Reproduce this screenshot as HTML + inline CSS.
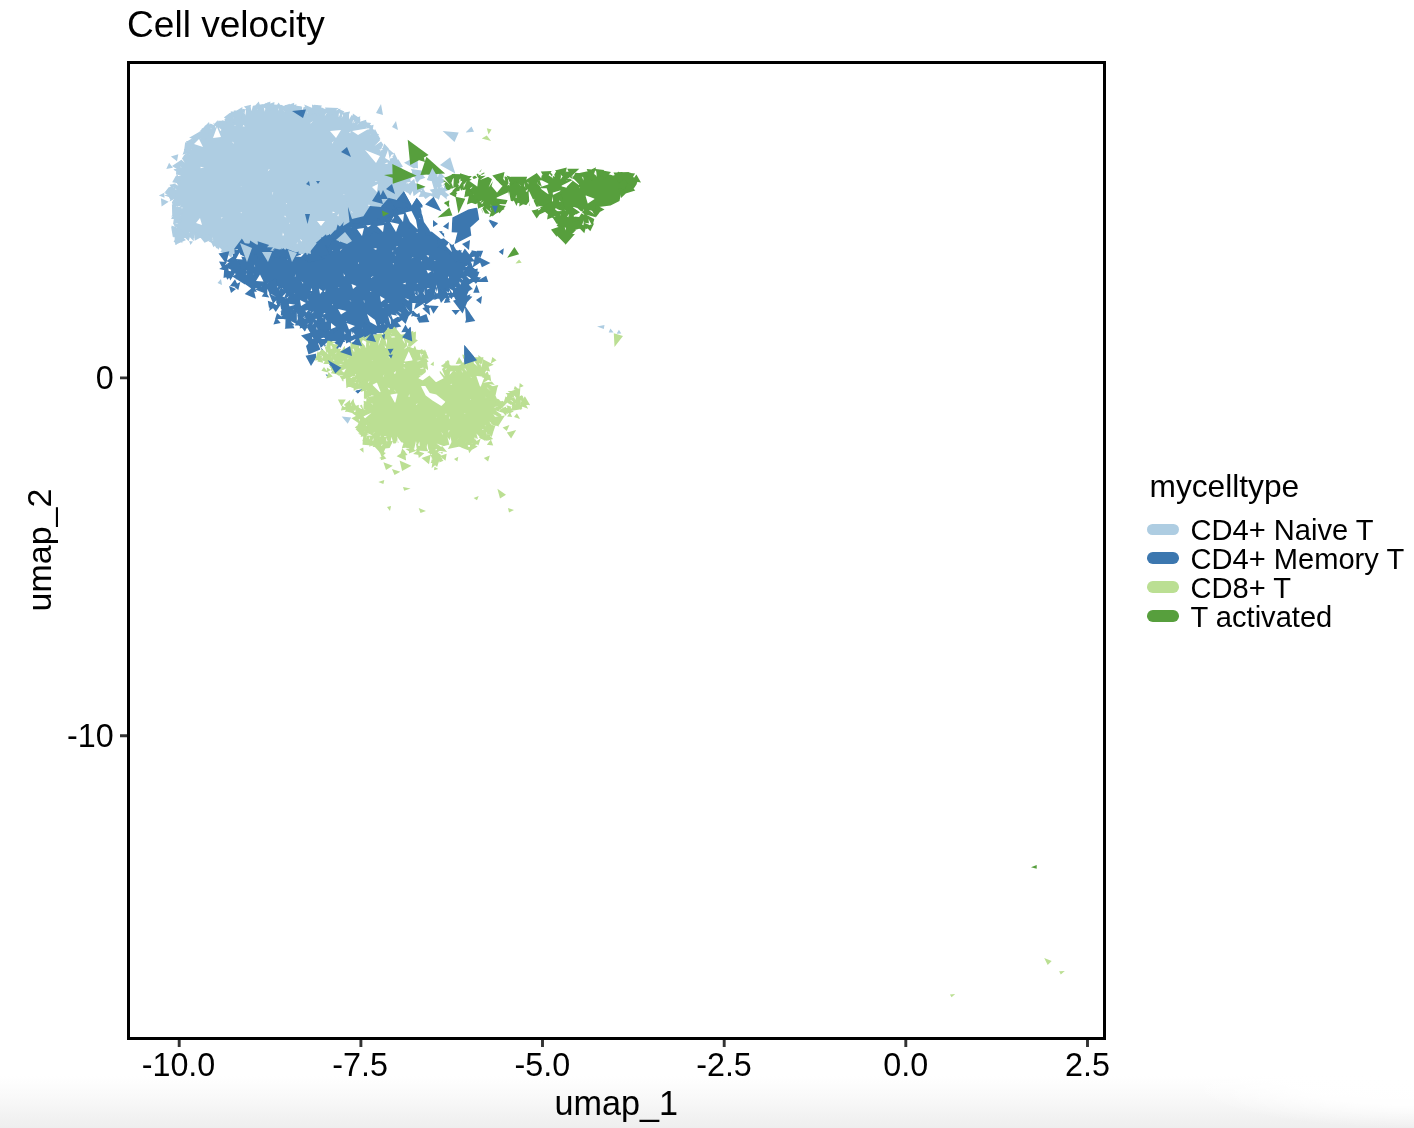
<!DOCTYPE html>
<html>
<head>
<meta charset="utf-8">
<title>Cell velocity</title>
<style>
html,body{margin:0;padding:0;background:#fff;}
body{width:1414px;height:1128px;overflow:hidden;position:relative;font-family:"Liberation Sans",sans-serif;color:#000;}
#shade{position:absolute;left:0;top:1076px;width:1414px;height:52px;
 background:linear-gradient(to bottom,#ffffff 0%,#f9f9f9 40%,#eeeeee 100%);}
#shade2{position:absolute;left:1180px;top:1076px;width:234px;height:52px;
 background:radial-gradient(ellipse 234px 52px at 100% 0%,rgba(255,255,255,1) 0%,rgba(255,255,255,.9) 55%,rgba(255,255,255,0) 100%);}
svg{position:absolute;left:0;top:0;}
.t{position:absolute;white-space:nowrap;line-height:1;}
#txt{position:absolute;left:0;top:0;width:1414px;height:1128px;will-change:transform;}
#title{left:127px;top:6.3px;font-size:37.1px;}
.xt{font-size:32.3px;top:1048.6px;transform:translateX(-50%);}
.yt{font-size:32.3px;right:1300.4px;transform:translateY(-50%);}
#xl{left:616.2px;top:1085.6px;font-size:34.2px;transform:translateX(-50%);}
#yl{left:39px;top:550px;font-size:34px;transform:translate(-50%,-50%) rotate(-90deg);}
#lt{left:1149.5px;top:470.7px;font-size:31.7px;}
.ll{left:1190.5px;font-size:29.1px;transform:translateY(-50%);}
.key{position:absolute;left:1147px;width:32px;height:11.6px;border-radius:5.8px;}
</style>
</head>
<body>
<div id="shade"></div><div id="shade2"></div>
<svg width="1414" height="1128" viewBox="0 0 1414 1128">
<g shape-rendering="geometricPrecision">
<path fill="#aecde2" d="M175.3 181.0L175.4 180.9L175.5 180.7L175.5 180.5L175.6 180.3L175.6 180.1L176.5 167.2L183.7 155.8L183.8 155.6L183.9 155.4L188.7 142.3L202.2 132.6L202.3 132.5L202.5 132.3L210.4 123.4L219.9 121.8L220.1 121.7L220.3 121.7L220.5 121.6L220.7 121.5L233.9 113.1L249.1 106.4L262.1 104.3L278.9 104.8L295.8 106.0L318.7 108.2L339.9 111.6L358.2 117.3L371.3 125.4L377.9 137.0L378.0 137.1L386.4 149.1L386.5 149.3L386.6 149.4L396.4 159.2L402.1 170.7L405.9 184.8L398.6 198.4L385.2 204.2L385.1 204.2L384.9 204.3L370.9 213.3L370.8 213.4L370.7 213.5L363.0 220.2L346.3 226.1L346.2 226.2L346.0 226.3L345.9 226.4L345.7 226.5L345.6 226.6L333.6 238.6L333.4 238.8L333.3 238.9L328.6 246.4L317.4 251.1L301.0 254.0L279.3 251.0L262.3 248.0L262.1 248.0L261.9 248.0L261.7 248.0L261.5 248.1L244.5 252.1L244.4 252.1L232.3 255.8L223.2 250.4L217.3 245.5L217.1 245.4L217.0 245.3L216.8 245.2L201.8 238.2L201.6 238.1L201.4 238.0L201.2 238.0L201.0 238.0L185.5 238.0L185.3 238.0L185.1 238.0L185.0 238.1L184.8 238.1L184.6 238.2L176.8 242.0L174.0 224.4L174.8 209.1L174.8 208.9L174.8 208.7L174.7 208.5L174.7 208.3L174.6 208.1L167.3 194.1Z"/>
<path fill="#ffffff" d="M172.5 189.8L166.2 198.5L164.8 195.8ZM174.2 199.7L167.9 201.8L166.6 199.3ZM174.5 198.1L169.9 205.5L168.1 202.2ZM181.2 205.8L171.7 210.6L171.9 207.3ZM181.0 216.2L171.6 213.8L171.7 211.3ZM178.5 224.0L171.1 222.5L171.2 220.5ZM178.6 228.1L171.8 229.2L171.1 225.4ZM182.5 232.1L172.6 234.5L171.9 230.1ZM183.1 237.7L173.0 237.2L172.6 234.5ZM175.7 234.6L180.0 243.8L176.9 245.3ZM176.0 236.0L182.8 242.4L180.7 243.5ZM190.6 233.8L189.9 241.0L186.1 241.0ZM189.1 231.9L194.7 241.0L190.7 241.0ZM193.8 233.7L198.5 241.0L194.6 241.0ZM206.2 235.6L202.4 241.8L200.4 240.8ZM211.0 238.0L206.9 243.9L204.9 242.9ZM212.9 237.1L213.5 246.9L211.5 246.0ZM388.4 159.1L396.1 154.7L398.1 156.6ZM389.1 159.7L392.8 151.4L395.0 153.6ZM379.0 150.1L388.0 146.4L390.0 148.9ZM379.9 151.7L384.7 141.6L386.8 144.6ZM374.5 146.0L382.3 138.1L383.4 139.8ZM371.9 136.5L379.0 132.9L381.0 136.5ZM370.3 134.7L377.9 131.0L379.4 133.6ZM366.5 129.7L375.4 126.6L376.5 128.6ZM366.4 128.4L367.6 119.6L370.1 121.2ZM357.2 124.5L364.1 117.5L367.2 119.4ZM360.2 122.9L360.4 115.2L363.2 116.9ZM352.5 123.8L353.8 112.8L356.6 113.7ZM349.1 119.4L348.9 111.2L353.0 112.5ZM341.7 118.1L343.4 109.5L345.9 110.3ZM338.8 117.2L338.0 108.2L342.3 108.9ZM334.2 114.6L332.5 107.3L334.8 107.7ZM324.7 116.2L327.9 106.6L330.4 107.0ZM320.9 114.7L320.2 105.4L323.5 105.9ZM322.3 114.1L317.6 105.0L321.3 105.5ZM307.6 113.2L311.1 104.4L313.8 104.7ZM307.0 113.7L307.1 104.1L309.6 104.3ZM302.4 110.8L301.1 103.5L304.9 103.8ZM296.0 111.5L293.6 102.8L296.2 103.0ZM293.8 112.4L289.8 102.6L292.9 102.8ZM284.3 112.3L281.8 102.0L285.3 102.2ZM278.8 111.0L276.9 101.7L279.4 101.8ZM269.6 110.5L269.5 101.5L273.1 101.6ZM270.5 109.3L267.6 101.5L271.7 101.6ZM264.8 111.8L262.5 101.3L266.5 101.4ZM258.0 109.8L253.6 102.7L257.3 102.1ZM251.5 111.2L249.9 103.3L253.7 102.6ZM245.7 115.8L243.4 105.7L246.1 104.5ZM245.9 114.2L237.1 108.4L239.0 107.6ZM239.8 118.1L233.5 110.0L236.0 108.9ZM233.4 120.2L229.2 112.6L232.4 110.5ZM233.4 120.1L224.0 115.8L226.2 114.4ZM226.9 122.1L219.0 119.0L222.1 117.0ZM215.6 128.2L213.4 119.8L217.1 119.2ZM216.1 126.3L207.5 122.0L210.3 119.9ZM211.8 129.0L203.6 126.5L205.5 124.4ZM211.0 132.9L201.6 128.8L203.9 126.2ZM202.2 137.8L197.5 132.2L200.7 130.0ZM201.1 138.6L193.4 135.2L196.1 133.3ZM192.2 147.9L188.7 138.5L190.9 137.0ZM192.3 149.7L184.0 146.3L184.9 143.8ZM187.3 155.4L181.8 152.4L182.8 149.7ZM189.9 154.3L180.6 155.6L182.1 151.6ZM184.8 162.8L179.0 157.5L180.1 155.8ZM181.8 167.4L174.0 165.6L175.2 163.6ZM180.6 167.0L173.3 170.2L173.4 167.6ZM181.1 175.5L172.8 177.0L173.0 173.7ZM178.4 185.8L171.2 182.0L173.5 178.3ZM176.7 190.0L168.7 186.1L170.1 183.7Z"/>
<path fill="#aecde2" d="M173.9 198.7L164.5 195.4L169.7 189.6ZM169.6 201.5L172.1 193.3L177.1 197.4ZM172.2 215.4L171.9 204.1L181.8 209.6ZM171.3 216.6L177.7 205.8L183.4 213.3ZM177.4 212.4L178.4 220.3L171.4 217.7ZM171.0 219.0L177.4 209.9L182.1 218.3ZM174.5 214.1L181.9 221.5L173.0 224.5ZM181.7 229.3L172.7 235.3L171.6 225.4ZM172.8 237.0L171.1 226.4L180.9 229.9ZM173.1 237.3L177.7 225.6L185.4 234.9ZM179.9 238.9L176.6 244.8L173.5 240.9ZM176.2 234.7L179.1 241.7L173.8 241.9ZM182.2 243.2L176.9 237.7L183.1 235.7ZM186.2 240.0L177.7 243.8L177.6 236.4ZM181.2 242.0L179.5 234.7L185.9 236.1ZM188.7 241.2L182.7 235.4L191.0 233.1ZM193.7 241.3L186.8 234.1L194.0 231.3ZM193.7 231.1L201.6 236.9L194.7 240.8ZM204.8 243.0L198.8 235.5L208.8 234.3ZM205.1 240.8L209.8 234.3L213.1 240.1ZM204.6 242.7L207.6 236.7L210.7 240.0ZM209.9 239.5L218.0 242.3L213.5 247.3ZM209.8 240.3L222.7 240.5L218.6 249.7ZM212.4 241.4L220.4 243.1L216.5 248.4ZM223.1 251.4L218.3 245.3L223.7 243.6ZM232.7 257.4L220.3 251.6L227.2 244.9ZM230.9 256.4L226.3 247.8L235.1 247.7ZM236.0 258.1L229.4 257.0L231.7 252.9ZM241.4 256.5L232.3 251.8L237.5 247.1ZM241.5 256.4L236.9 250.3L243.8 249.1ZM243.6 252.5L249.3 245.6L252.5 253.2ZM254.9 252.7L240.7 250.7L249.7 239.4ZM249.4 251.2L254.1 244.1L257.8 251.3ZM253.5 246.6L261.9 243.0L261.7 250.6ZM268.1 242.5L263.6 250.9L259.0 245.2ZM264.7 251.3L261.5 244.3L267.8 244.2ZM262.5 250.0L271.2 241.0L275.0 249.8ZM271.2 252.6L275.0 245.7L279.0 251.6ZM270.8 250.5L279.7 242.6L282.5 252.2ZM278.4 247.0L283.9 250.7L279.7 253.5ZM281.8 253.6L289.3 246.2L292.3 253.7ZM292.0 244.4L297.1 255.5L285.1 254.5ZM296.0 253.7L302.2 245.8L306.0 254.0ZM295.6 249.5L303.1 249.9L300.3 255.4ZM305.0 247.8L309.7 253.2L303.2 254.7ZM309.4 255.9L306.3 246.5L313.1 246.7ZM309.3 248.9L316.7 248.6L313.4 255.1ZM315.3 248.4L322.5 243.4L323.5 251.6ZM333.3 242.5L328.7 248.8L325.5 243.8ZM331.0 240.4L330.8 247.6L325.7 245.4ZM328.6 237.4L334.8 234.2L335.0 240.1ZM333.6 230.6L341.5 233.9L336.1 238.8ZM332.3 230.4L340.7 228.7L339.3 235.5ZM335.0 228.6L343.5 217.2L349.2 228.7ZM351.8 223.5L345.3 228.7L344.1 220.2ZM360.0 224.1L352.3 223.1L356.0 217.4ZM361.7 222.2L357.1 217.2L362.3 215.4ZM363.4 212.0L369.4 218.8L361.7 220.9ZM365.4 210.0L371.5 216.5L364.2 218.7ZM380.4 211.2L369.3 216.3L370.1 204.6ZM374.8 214.1L374.1 205.7L381.7 209.3ZM379.1 208.7L372.6 212.9L371.5 207.1ZM383.6 203.1L382.5 209.8L377.4 205.8ZM378.0 200.9L386.8 200.8L384.1 207.3ZM380.9 207.2L382.1 195.4L391.5 201.6ZM387.7 205.8L389.9 198.8L394.7 203.4ZM394.6 203.5L391.3 196.8L398.0 196.8ZM399.6 190.8L398.1 198.6L393.3 195.6ZM400.2 195.6L397.9 187.4L406.2 189.6ZM408.7 186.6L400.1 195.0L396.7 185.0ZM399.5 184.0L407.8 184.9L403.9 191.0ZM407.0 180.3L405.5 188.8L398.7 182.9ZM405.3 172.7L402.9 179.6L398.3 175.0ZM406.8 176.8L395.0 177.5L398.4 168.5ZM399.7 164.7L403.3 170.6L398.3 171.4ZM402.8 166.5L394.3 165.6L398.3 159.3ZM394.9 169.2L396.4 160.9L403.0 166.7ZM394.2 152.4L400.0 164.3L390.5 165.2ZM386.7 147.2L394.2 153.8L385.1 157.1ZM381.5 148.3L388.1 148.6L385.9 153.3ZM381.9 150.6L384.2 143.5L389.1 148.8ZM379.2 134.3L372.6 138.8L371.7 131.5ZM380.5 139.3L368.8 139.0L375.0 128.9ZM370.2 128.9L377.8 134.2L371.4 138.1ZM372.2 132.8L366.7 126.8L373.6 124.7ZM363.8 122.1L371.1 123.1L367.0 128.7ZM358.9 126.0L366.1 120.2L368.0 127.8ZM357.4 122.6L366.2 119.7L364.4 128.7ZM360.3 116.3L359.0 124.0L352.9 118.9ZM352.9 113.5L358.9 117.8L352.0 120.9ZM347.0 120.1L341.3 113.0L350.1 111.6ZM337.7 108.6L344.4 111.6L340.3 115.4ZM335.6 107.9L335.5 115.8L330.4 113.9ZM340.5 108.4L337.0 118.9L330.4 112.8ZM338.7 108.0L328.1 116.7L325.0 107.5ZM316.9 105.1L329.0 110.9L320.5 118.1ZM317.0 115.6L313.8 104.8L321.9 105.5ZM314.0 114.2L308.8 108.5L315.4 106.7ZM312.0 104.5L321.8 108.8L312.5 115.2ZM304.2 104.4L315.8 109.6L309.0 116.2ZM302.5 107.0L294.0 114.1L291.7 104.6ZM294.9 112.1L289.9 105.9L296.6 104.3ZM293.5 112.8L286.3 105.8L294.2 102.8ZM288.0 111.2L284.4 105.4L290.3 104.8ZM290.0 103.8L285.5 112.7L280.5 106.7ZM274.3 108.8L278.7 102.4L282.1 108.6ZM275.8 106.3L268.3 111.8L267.5 102.1ZM274.1 109.3L269.1 104.1L274.4 102.1ZM265.0 102.8L272.2 106.6L267.4 110.6ZM260.1 105.5L270.4 101.6L269.6 111.0ZM261.4 110.1L252.6 108.3L258.8 101.5ZM243.9 106.4L251.1 104.8L248.9 111.6ZM235.1 111.6L242.4 107.1L242.4 116.2ZM246.2 108.9L239.2 119.5L233.6 110.6ZM230.6 114.8L241.9 109.5L241.7 120.5ZM238.7 111.0L233.1 117.3L230.3 111.8ZM235.1 123.4L223.8 117.6L231.9 111.2ZM226.0 116.5L229.6 122.1L224.0 122.9ZM222.3 129.8L217.6 120.6L227.4 120.9ZM217.6 120.3L219.2 127.1L213.0 125.5ZM201.3 128.9L207.9 124.8L208.9 130.7ZM205.2 125.3L208.7 136.1L199.0 134.8ZM210.7 129.8L205.7 139.5L200.4 133.4ZM192.3 140.2L202.5 127.9L208.0 137.3ZM189.1 137.8L199.9 131.4L201.2 141.0ZM185.5 142.3L192.7 137.9L192.9 146.3ZM185.2 142.0L190.5 148.9L184.1 150.6ZM183.8 150.2L186.4 141.3L192.0 145.9ZM183.5 153.8L190.1 152.2L189.3 157.4ZM181.1 163.8L179.3 173.3L173.5 169.8ZM176.9 173.5L180.2 180.2L175.0 180.8ZM182.6 183.9L172.2 182.3L175.7 175.9ZM176.1 183.6L171.9 188.8L169.5 184.7ZM164.2 192.9L168.9 187.1L171.5 191.7ZM167.1 190.6L171.3 184.8L174.1 189.1ZM434.2 189.8L430.5 176.9L442.1 179.0ZM403.5 173.6L413.2 174.8L409.2 181.6ZM414.3 180.7L415.4 189.0L408.4 186.7ZM404.0 162.7L414.7 157.2L414.4 168.7ZM417.0 183.2L410.9 168.9L427.1 171.3ZM447.0 183.6L438.7 188.2L438.5 179.3ZM444.7 178.0L442.1 185.7L437.4 181.7ZM407.1 185.0L414.2 178.7L416.3 187.5ZM401.0 171.6L409.4 180.6L401.4 183.9ZM417.2 170.4L425.4 177.7L415.4 181.2ZM426.6 174.3L437.9 170.8L437.1 179.8ZM422.9 188.0L428.0 196.5L418.6 196.9ZM436.8 182.0L439.2 171.7L446.8 178.8ZM446.9 199.6L437.1 191.6L445.4 187.1ZM409.3 183.9L407.5 193.1L401.3 188.7ZM408.5 176.3L413.8 170.5L416.3 176.4ZM396.7 187.6L407.9 183.2L407.7 192.6ZM429.6 189.8L443.0 187.0L438.8 199.9ZM402.1 183.8L407.0 175.6L411.3 181.5ZM431.1 176.7L444.3 181.2L435.1 190.1ZM444.8 198.0L443.9 185.2L455.7 191.3ZM411.1 181.2L425.0 187.6L413.6 196.3ZM442.7 192.1L451.2 184.2L453.9 195.2ZM417.6 156.3L418.0 168.6L409.0 165.1ZM438.0 199.1L430.0 195.6L435.7 190.6ZM445.7 183.7L438.2 188.4L437.0 181.8ZM442.6 130.9L458.7 132.6L454.5 141.9ZM465.5 132.6L471.5 126.6L474.0 131.7ZM440.0 164.9L450.2 157.2L455.3 173.4ZM427.0 180.0L432.3 168.0L441.0 182.8ZM400.0 182.8L416.2 184.5L410.2 195.5ZM418.7 190.4L433.2 193.8L425.5 199.0ZM376.0 113.0L381.0 104.0L383.0 115.0ZM392.0 127.0L396.0 121.0L398.0 130.0ZM597.0 326.4L604.5 324.9L603.8 329.1ZM608.7 332.6L610.4 328.5L613.6 332.6ZM616.6 333.8L618.9 329.8L621.3 333.4ZM341.7 416.4L351.1 417.6L347.7 423.7ZM470.2 410.4L474.5 407.9L475.3 413.8ZM217.5 283.0L221.0 279.0L222.0 285.0ZM182.5 155.0L187.5 141.0L197.0 146.5ZM173.6 228.0L185.5 239.8L175.3 245.0ZM165.0 193.8L175.0 186.0L176.0 199.0ZM172.0 166.0L181.0 160.0L180.0 171.0ZM200.0 131.0L209.0 122.0L212.0 133.0ZM166.3 168.9L169.1 162.8L172.9 167.8ZM158.9 195.5L164.2 192.7L164.5 197.8ZM168.7 201.8L161.6 206.6L160.9 198.3ZM170.9 156.5L178.3 154.3L177.0 161.2ZM190.5 245.1L189.1 240.9L193.0 241.4Z"/>
<path fill="#ffffff" d="M313.2 121.1L310.8 123.6L310.3 123.0ZM333.6 141.1L332.7 143.5L331.9 143.0ZM285.7 202.8L287.1 203.8L286.6 204.3ZM233.9 125.0L235.5 125.1L235.4 125.5ZM355.5 120.9L354.0 123.2L353.5 122.7ZM223.1 217.2L221.2 218.6L220.8 217.8ZM297.8 242.3L297.3 243.8L296.6 243.3ZM344.9 194.1L343.5 194.7L343.4 194.3ZM351.4 210.8L352.6 212.4L351.8 212.7ZM384.5 163.7L387.4 162.2L387.7 164.1ZM240.3 186.4L241.6 186.2L241.6 186.5ZM370.6 205.1L368.5 206.2L368.3 204.7ZM335.2 212.6L332.5 213.3L332.7 211.5ZM272.3 195.4L272.5 192.2L273.2 192.3ZM219.1 127.6L221.5 130.0L220.1 130.9ZM204.1 167.5L200.6 168.2L200.6 166.7ZM180.2 207.9L182.5 207.5L182.6 208.2ZM290.2 222.5L289.3 223.8L288.9 223.3ZM232.2 141.5L234.0 143.0L233.1 143.6ZM377.8 181.4L375.4 182.0L375.3 181.2ZM245.1 126.3L242.8 126.6L243.1 125.1ZM282.9 232.4L284.1 235.2L282.4 235.4ZM240.2 212.4L242.0 212.5L241.7 213.3ZM350.6 131.2L350.2 133.3L349.1 132.8ZM338.4 213.4L338.6 216.2L337.3 216.0ZM300.1 238.8L302.2 240.7L301.1 241.5ZM286.4 217.8L284.2 216.3L285.0 215.5ZM267.7 171.4L268.9 169.1L269.7 169.8Z"/>
<path fill="#ffffff" d="M213.0 138.0L217.0 127.0L221.0 137.0ZM352.0 131.0L370.0 128.0L358.0 135.0ZM365.0 150.0L380.0 156.0L376.0 163.0ZM341.0 130.0L336.0 138.0L330.0 131.0ZM194.0 144.0L199.0 139.0L203.0 147.0ZM196.0 223.0L200.0 218.0L202.0 225.0ZM317.0 221.0L325.0 221.0L321.0 226.0ZM372.0 187.0L378.0 184.0L377.0 192.0ZM385.0 158.0L388.0 150.0L390.0 161.0Z"/>
<path fill="#3c77af" d="M242.6 242.8L269.3 249.9L269.3 250.0L295.6 256.5L295.8 256.5L295.9 256.5L309.5 257.5L309.6 257.5L309.8 257.5L309.9 257.5L310.1 257.4L310.2 257.4L310.3 257.3L310.5 257.2L310.6 257.1L310.7 257.0L310.8 256.9L321.0 244.1L326.4 240.9L326.5 240.8L326.6 240.7L338.2 229.9L352.1 227.5L365.4 228.5L365.5 228.5L365.7 228.5L365.8 228.5L365.9 228.4L366.1 228.4L378.4 223.5L389.5 222.5L389.7 222.5L389.8 222.4L390.0 222.4L390.1 222.3L390.2 222.3L390.3 222.2L390.4 222.1L390.5 222.0L397.8 213.3L405.0 211.6L412.1 217.2L412.2 217.3L412.3 217.3L412.4 217.4L420.7 221.1L420.8 221.1L421.0 221.2L431.2 223.4L440.1 232.6L445.8 240.8L445.8 241.0L452.1 248.6L452.2 248.7L452.4 248.8L452.5 248.9L452.6 248.9L461.2 253.3L468.0 258.0L471.6 265.5L473.6 272.0L470.6 280.5L468.0 286.4L460.3 290.7L452.8 294.1L437.0 298.0L429.7 299.5L414.8 301.5L414.6 301.5L414.5 301.6L414.4 301.6L414.2 301.7L414.1 301.8L414.0 301.9L413.9 302.0L413.8 302.1L413.7 302.3L408.7 311.2L401.0 320.8L388.8 327.1L364.6 334.6L349.8 338.5L337.5 339.0L318.6 337.5L302.6 323.9L302.4 323.8L302.3 323.7L285.7 315.2L287.5 306.3L287.5 306.1L287.5 306.0L287.5 305.9L287.5 305.7L287.4 305.6L287.4 305.4L287.3 305.3L287.3 305.2L287.2 305.1L287.1 304.9L287.0 304.8L286.8 304.8L286.7 304.7L276.1 298.9L271.0 290.7L270.9 290.6L270.8 290.5L270.7 290.4L270.6 290.3L270.5 290.2L270.3 290.1L270.2 290.1L250.5 283.2L237.1 273.0L231.5 263.6ZM370.0 206.0L381.0 207.0L389.0 198.0L397.0 200.0L404.0 191.5L411.7 205.6L416.7 198.0L422.6 205.6L421.6 213.6L425.6 219.5L413.0 217.0L405.0 211.0L397.0 213.0L389.0 222.0L378.0 223.0L370.0 225.0ZM337.5 229.5L346.4 218.7L348.0 207.0L352.0 219.0L363.4 216.2L370.0 206.0L370.0 225.0L352.0 227.0ZM452.4 217.5L468.3 209.6L477.2 207.6L479.2 219.5L470.3 227.5L471.3 235.4L454.4 244.3L457.4 232.4L451.4 232.4Z"/>
<path fill="#ffffff" d="M239.5 257.7L230.6 267.9L227.4 262.5ZM237.4 260.1L232.2 270.5L230.4 267.6ZM244.9 270.1L234.5 274.4L232.1 270.4ZM247.2 270.1L237.6 277.1L233.8 274.2ZM246.4 271.0L240.5 279.3L237.0 276.7ZM246.7 273.3L245.1 282.8L240.9 279.6ZM253.5 273.6L248.6 285.5L244.8 282.6ZM251.1 275.0L252.5 287.0L247.5 285.3ZM260.9 279.7L258.1 289.0L252.8 287.1ZM260.2 280.8L261.7 290.3L256.8 288.5ZM273.2 282.7L266.8 292.1L261.3 290.1ZM268.1 282.6L270.0 293.2L264.3 291.2ZM277.9 286.1L269.2 293.6L267.6 291.0ZM278.4 285.7L271.9 297.8L268.8 292.9ZM280.7 287.9L273.5 300.4L271.6 297.4ZM286.2 292.8L281.2 305.1L276.3 302.4ZM289.0 296.1L281.8 305.4L279.0 303.9ZM295.2 304.7L284.2 307.9L284.8 303.1ZM292.1 310.3L283.5 311.1L284.6 305.2ZM293.7 309.9L282.9 313.9L283.6 310.3ZM293.6 309.0L287.2 319.3L284.0 317.7ZM298.2 313.8L290.5 321.0L287.2 319.3ZM295.6 314.5L295.9 323.8L291.2 321.4ZM296.9 312.0L298.7 325.2L293.0 322.3ZM305.1 318.9L300.9 326.3L298.0 324.8ZM304.4 315.8L304.5 329.5L299.8 325.4ZM308.4 322.7L307.0 331.6L303.7 328.7ZM314.0 321.8L310.6 334.7L308.0 332.5ZM317.1 326.0L314.6 338.1L312.0 335.8ZM323.8 335.3L317.1 340.2L313.7 337.3ZM328.5 331.9L324.2 341.0L320.8 340.7ZM329.7 330.1L328.8 341.3L324.5 341.0ZM327.4 331.4L333.8 341.7L328.9 341.3ZM339.0 333.1L338.0 342.0L333.7 341.7ZM338.1 333.7L342.6 341.8L336.1 342.1ZM339.9 333.7L344.6 341.7L341.5 341.8ZM344.3 331.4L351.9 341.4L345.6 341.7ZM351.4 331.2L355.7 340.0L350.5 341.4ZM352.5 331.7L359.4 339.0L355.1 340.2ZM362.3 327.6L362.5 338.2L358.7 339.2ZM360.4 330.6L366.7 337.1L363.7 337.9ZM366.4 325.9L371.1 335.7L366.4 337.1ZM365.1 326.2L373.6 334.9L369.4 336.2ZM377.8 323.7L379.2 333.2L373.9 334.8ZM376.6 325.3L380.9 332.7L377.4 333.8ZM380.1 323.7L386.6 330.9L380.6 332.8ZM384.1 323.1L390.0 329.9L385.9 331.1ZM388.2 315.8L396.0 326.8L391.5 329.1ZM390.2 315.2L399.1 325.2L395.0 327.3ZM390.5 316.1L400.7 324.4L397.9 325.8ZM395.6 313.3L405.3 320.2L402.4 323.8ZM397.9 311.1L408.5 316.3L406.5 318.7ZM405.3 304.8L410.9 313.2L408.3 316.5ZM407.0 301.7L413.7 308.4L411.5 312.3ZM408.9 299.3L416.3 303.8L413.7 308.5ZM404.8 298.1L417.2 302.7L414.6 306.1ZM417.8 290.8L421.4 303.7L418.0 304.1ZM414.6 293.4L425.2 303.2L419.2 304.0ZM424.3 289.3L428.8 302.7L424.5 303.3ZM422.9 291.5L433.2 301.9L427.6 303.0ZM435.8 288.6L437.9 300.9L432.6 302.0ZM437.0 287.7L440.4 300.3L435.8 301.4ZM442.2 290.5L445.0 299.1L441.4 300.0ZM449.8 290.3L450.7 297.7L445.5 299.0ZM446.2 290.8L453.6 297.0L449.6 298.0ZM449.5 288.6L459.0 294.6L454.3 296.7ZM462.1 281.4L462.3 293.0L459.0 294.6ZM459.7 281.6L466.2 290.8L461.8 293.3ZM458.8 281.9L469.8 288.9L464.5 291.8ZM460.3 277.8L472.6 283.5L471.0 287.0ZM464.4 274.1L473.9 280.2L472.9 283.0ZM467.5 272.4L475.5 275.7L474.0 279.9ZM465.7 274.3L475.5 268.0L477.0 272.9ZM462.6 271.5L474.3 264.2L476.0 269.5ZM464.9 267.1L473.5 262.5L474.8 265.4ZM245.2 257.3L233.0 254.4L235.0 250.7ZM242.8 256.5L231.5 257.1L233.9 252.7Z"/>
<path fill="#3c77af" d="M233.8 275.3L227.4 263.0L238.4 262.2ZM232.7 264.1L233.0 253.4L241.5 258.2ZM235.5 267.0L226.4 260.9L233.2 256.3ZM233.9 259.0L234.6 249.0L242.2 253.3ZM234.1 252.7L243.2 246.6L244.6 256.0ZM238.3 243.3L246.6 251.1L237.7 254.7ZM233.9 249.3L241.9 238.6L247.0 246.8ZM238.7 243.2L253.1 243.8L249.3 252.9ZM249.4 243.3L262.5 245.2L254.9 255.3ZM250.2 252.9L251.0 243.0L259.2 248.6ZM259.2 246.3L248.9 249.1L250.1 240.6ZM259.5 255.0L257.6 241.2L269.1 244.9ZM257.0 256.5L257.3 244.5L266.9 249.7ZM271.9 249.2L258.4 260.1L254.7 246.9ZM273.1 247.6L266.7 253.6L264.3 247.1ZM277.6 248.7L279.9 258.5L270.0 255.3ZM283.9 252.5L274.3 258.4L273.2 249.0ZM286.0 258.1L276.2 255.1L283.9 248.1ZM273.9 248.2L282.4 250.1L278.5 255.6ZM280.4 249.0L289.0 254.3L280.4 259.1ZM281.1 248.6L293.9 251.5L286.4 260.6ZM297.5 253.6L288.5 259.9L287.4 249.3ZM301.4 254.5L285.9 260.1L286.0 248.6ZM299.2 251.6L294.1 259.2L290.3 253.7ZM309.0 261.3L299.5 258.4L305.9 251.9ZM304.4 255.1L313.7 252.9L311.5 261.5ZM318.3 256.6L307.1 259.2L308.0 251.3ZM324.5 258.4L307.4 263.0L308.7 250.5ZM318.8 258.6L311.8 251.0L320.0 248.4ZM319.5 239.8L326.7 255.6L308.8 253.3ZM313.3 252.7L321.8 239.0L329.4 254.3ZM329.6 234.6L326.5 243.4L320.8 237.7ZM315.7 243.0L326.0 234.2L328.9 245.8ZM333.3 238.0L328.3 248.5L321.6 238.7ZM334.3 241.2L325.7 239.4L329.5 233.8ZM335.6 229.6L337.4 239.4L328.7 236.8ZM333.9 238.3L337.6 224.6L347.2 233.5ZM342.2 229.4L352.3 226.9L349.4 237.0ZM351.9 225.3L344.7 238.3L337.2 227.3ZM355.4 236.3L349.4 222.7L364.2 224.3ZM358.9 235.7L360.7 225.1L367.8 229.7ZM371.2 231.5L361.6 231.1L365.2 224.0ZM363.5 226.3L375.2 229.5L369.0 237.2ZM359.4 222.5L372.7 230.7L362.0 237.9ZM379.9 218.8L379.7 234.6L367.2 228.1ZM378.2 229.2L370.0 224.9L376.2 220.1ZM383.3 227.4L371.7 229.3L374.0 220.2ZM379.6 229.8L377.2 218.5L386.2 220.3ZM380.5 219.0L389.0 225.5L379.8 229.7ZM380.0 227.9L389.9 217.8L394.1 228.7ZM393.5 215.0L390.6 224.0L385.0 219.1ZM391.6 219.9L401.0 215.0L400.3 226.0ZM401.8 213.7L394.3 218.7L393.1 211.1ZM400.3 217.9L396.4 208.0L407.0 209.7ZM406.3 208.4L399.7 215.7L396.5 207.6ZM393.2 210.4L405.1 209.8L402.2 218.2ZM409.8 208.3L410.7 220.7L402.4 218.3ZM399.5 218.7L406.1 205.9L413.9 218.6ZM413.0 210.4L419.2 218.8L412.2 220.8ZM415.8 226.2L414.8 216.4L423.1 219.7ZM408.2 229.1L413.6 214.0L422.7 222.2ZM419.2 227.7L420.3 217.5L426.8 220.8ZM425.7 229.9L418.7 218.4L431.0 217.5ZM434.6 223.7L423.8 227.3L424.7 218.1ZM434.9 220.6L427.9 234.4L419.4 221.1ZM444.0 233.7L425.0 235.5L428.9 222.0ZM435.6 236.7L433.8 225.1L444.8 229.5ZM437.5 243.4L439.3 232.1L448.0 238.8ZM444.4 243.8L436.1 237.1L444.1 233.2ZM452.0 245.1L442.8 239.4L448.8 234.8ZM449.5 252.2L437.5 247.0L447.5 239.3ZM457.7 252.5L445.9 250.1L451.6 242.1ZM445.1 245.2L454.1 241.9L453.8 249.2ZM447.0 250.8L461.9 250.3L456.2 262.6ZM459.1 249.5L466.1 257.7L457.3 260.1ZM465.9 257.7L454.3 262.8L456.1 249.8ZM474.2 260.6L459.0 258.5L464.8 248.5ZM471.9 263.4L459.1 262.8L463.9 253.3ZM475.2 260.9L463.7 263.2L466.5 253.1ZM478.4 271.4L468.4 272.6L470.3 265.4ZM477.0 277.3L460.2 275.5L470.8 261.6ZM466.5 273.1L479.5 271.7L475.1 282.9ZM469.3 270.4L477.8 268.6L476.9 274.6ZM467.4 281.6L473.8 275.7L476.1 282.1ZM474.3 281.3L464.0 287.7L462.9 277.4ZM473.0 289.2L458.6 288.1L463.2 278.6ZM471.8 289.2L462.0 295.6L460.2 287.2ZM470.5 290.2L461.6 292.0L462.5 285.9ZM456.4 283.2L467.0 289.9L455.9 295.8ZM452.9 297.2L453.2 283.8L465.0 291.5ZM446.0 292.6L454.7 293.2L451.6 299.3ZM450.1 300.5L438.2 294.4L445.1 288.0ZM448.4 294.3L441.0 303.0L437.0 293.1ZM450.6 297.5L436.4 298.7L439.1 289.0ZM434.3 290.8L440.5 297.5L434.3 299.9ZM428.3 292.2L434.0 299.6L425.7 301.2ZM421.1 295.7L431.1 293.6L428.8 302.3ZM424.9 305.5L424.5 289.8L437.6 296.3ZM421.8 292.5L419.0 304.6L411.3 299.1ZM414.0 309.4L418.5 293.5L428.1 300.7ZM407.0 302.7L413.2 292.4L419.0 303.2ZM412.1 314.3L402.5 303.4L412.3 299.8ZM413.6 310.9L404.7 320.6L400.5 312.3ZM405.3 306.9L411.1 314.2L404.5 316.2ZM404.9 321.8L398.4 314.3L407.4 312.2ZM409.6 313.7L405.6 324.0L399.1 317.2ZM398.0 317.5L405.6 311.8L407.5 318.3ZM402.8 319.8L390.9 326.4L390.7 313.5ZM401.3 326.4L390.8 328.7L394.0 318.5ZM387.8 321.9L395.6 327.7L388.4 331.6ZM389.1 324.8L385.7 333.1L380.6 327.6ZM386.0 332.8L375.5 333.3L379.3 324.7ZM389.8 323.8L383.9 334.4L377.7 325.0ZM371.2 334.0L376.0 320.5L385.1 330.4ZM377.0 335.0L367.6 332.9L372.8 326.3ZM366.7 337.7L367.4 325.9L377.4 332.8ZM363.8 322.6L379.4 332.0L363.1 340.8ZM366.5 327.8L361.6 339.3L354.0 329.3ZM360.6 331.0L360.4 341.9L351.2 336.5ZM357.2 340.6L360.0 329.8L368.0 338.2ZM358.0 337.8L346.0 343.5L345.3 334.1ZM351.0 343.0L339.7 337.9L349.0 330.8ZM346.9 337.7L335.7 343.7L335.3 332.6ZM328.8 340.5L339.1 327.8L345.1 342.1ZM342.1 342.9L328.9 339.4L335.4 331.0ZM338.1 338.9L324.0 341.7L327.5 329.3ZM318.7 334.5L333.7 329.4L332.2 342.8ZM329.9 330.2L332.3 339.7L325.1 338.6ZM320.2 339.4L322.0 330.0L327.7 333.5ZM325.2 333.2L318.0 343.2L313.1 335.6ZM309.9 330.9L323.1 329.2L319.4 340.2ZM314.3 339.9L306.9 326.9L318.7 325.6ZM316.6 337.7L308.4 324.9L320.2 323.0ZM298.2 322.7L309.1 324.4L304.7 331.6ZM301.6 318.8L307.9 326.3L299.7 328.4ZM309.9 314.6L305.4 330.9L294.8 322.3ZM307.5 325.1L294.9 325.4L299.4 315.4ZM296.9 324.3L285.7 318.3L296.8 311.7ZM288.0 320.9L280.3 311.5L290.2 309.0ZM285.7 307.5L295.5 316.0L287.7 320.3ZM280.7 315.3L289.0 306.5L292.2 318.8ZM282.7 299.5L292.3 311.6L280.8 314.9ZM288.2 305.2L295.4 311.5L286.3 314.6ZM279.7 297.7L289.7 303.4L281.0 309.2ZM286.9 297.2L290.0 308.1L280.1 306.2ZM286.4 299.1L277.2 306.0L275.4 295.6ZM276.6 293.0L285.5 298.0L276.2 303.1ZM270.0 293.3L279.6 287.6L279.6 299.1ZM278.5 294.8L264.2 285.2L276.1 277.7ZM266.0 286.0L275.5 289.6L270.3 295.2ZM255.1 289.4L267.3 284.8L267.3 294.2ZM262.1 291.2L248.0 284.2L255.9 276.8ZM254.7 289.1L255.0 275.9L265.9 282.2ZM249.0 285.1L260.4 279.5L261.3 288.4ZM255.0 290.4L242.8 279.5L258.7 274.6ZM250.8 275.2L254.9 284.8L246.2 284.5ZM253.8 271.0L251.6 288.7L237.9 279.1ZM246.7 267.7L244.9 284.4L232.3 276.4ZM244.9 272.9L236.4 279.8L234.5 269.3ZM241.5 267.9L246.4 276.2L236.9 276.4ZM243.2 277.6L230.7 270.9L239.0 264.1ZM231.1 270.8L230.0 259.3L240.4 263.9ZM396.8 199.7L403.8 191.2L411.7 205.6ZM412.7 204.6L416.7 197.7L422.6 205.6ZM425.1 204.6L433.6 196.7L441.5 211.6ZM443.0 226.5L448.9 222.0L448.4 229.4ZM489.2 219.5L498.1 223.0L493.6 228.0ZM466.8 258.2L472.3 250.3L476.3 256.3ZM476.8 250.8L483.2 250.8L480.2 258.2ZM380.9 206.6L388.9 197.7L396.0 210.0ZM372.0 201.0L379.0 190.0L383.0 204.0ZM386.0 189.0L392.0 184.0L395.0 194.0ZM462.0 244.0L470.0 240.0L469.0 250.0ZM383.0 190.0L388.0 199.0L379.0 199.0ZM234.6 274.5L223.5 278.0L224.2 269.2ZM284.0 318.7L275.0 319.3L277.0 313.1ZM396.5 327.9L394.0 339.0L385.9 332.0ZM230.3 280.4L226.9 270.8L235.7 271.7ZM255.9 298.7L244.7 293.9L253.0 286.9ZM438.7 306.1L433.4 313.7L429.4 305.6ZM430.2 315.4L422.3 308.5L428.7 305.0ZM331.9 348.2L325.8 343.4L330.8 340.5ZM450.8 302.2L443.9 302.9L446.2 297.1ZM359.0 349.1L364.3 339.6L369.2 345.4ZM472.4 296.8L465.5 303.9L462.9 294.3ZM475.8 284.0L472.4 276.3L481.1 277.6ZM359.9 339.0L356.1 348.7L350.3 343.2ZM219.0 261.6L226.9 262.1L222.7 268.6ZM459.5 293.8L467.3 299.6L458.3 303.4ZM309.1 348.6L307.5 339.7L316.2 343.1ZM240.3 282.1L238.3 290.1L232.8 285.7ZM409.6 331.7L401.3 332.2L405.5 324.5ZM269.3 297.6L261.7 296.6L265.3 291.0ZM472.7 267.5L475.0 255.8L482.6 260.9ZM394.7 339.2L389.2 333.6L395.7 331.4ZM285.6 316.9L294.6 324.9L285.2 328.8ZM219.2 268.9L227.5 263.5L228.8 271.3ZM238.9 287.5L230.0 285.9L235.0 279.3ZM226.1 263.8L218.5 253.4L229.3 251.3ZM414.0 316.6L419.3 312.8L420.5 317.4ZM281.1 304.0L275.8 312.1L271.6 306.1ZM356.5 348.1L358.9 338.9L364.3 342.7ZM418.1 315.3L411.1 316.4L413.0 310.4ZM232.1 274.9L227.2 279.7L225.3 273.9ZM269.0 308.1L267.8 300.8L274.3 303.0ZM309.4 349.2L308.9 336.8L319.8 342.5ZM365.1 338.6L377.3 342.0L369.8 350.4ZM476.6 284.4L479.6 292.8L473.2 292.7ZM257.0 291.8L249.2 291.4L252.6 285.4ZM301.0 335.4L313.7 331.8L310.6 344.3ZM331.4 342.2L344.0 340.8L338.2 352.9ZM269.2 311.1L270.7 301.7L276.7 305.2ZM289.2 317.5L294.5 328.3L284.8 328.7ZM397.3 335.0L387.6 339.0L387.3 331.7ZM280.7 323.1L273.4 324.5L276.0 317.3ZM355.2 346.8L364.2 337.7L368.0 346.7ZM224.7 266.4L237.0 257.0L243.0 276.0ZM268.9 293.6L278.3 297.9L273.2 303.8ZM280.0 318.3L283.4 314.0L287.7 320.0ZM306.0 346.0L315.3 336.6L320.4 349.4L308.5 354.5ZM305.5 355.7L319.0 353.0L311.0 366.0ZM327.2 361.1L341.7 366.2L334.9 373.8ZM317.0 339.0L329.8 339.0L322.1 350.9ZM325.5 374.3L329.8 375.5L327.2 376.7ZM402.1 337.2L410.6 327.0L412.3 341.5ZM402.6 336.2L410.2 326.8L411.9 341.3ZM417.9 317.4L426.4 314.0L428.9 321.7ZM423.0 303.8L431.5 306.4L426.4 310.6ZM416.6 317.7L426.0 315.1L429.4 321.9L419.1 322.8ZM453.0 300.7L470.5 294.3L462.6 313.4ZM465.1 322.8L468.5 310.9L475.3 321.1ZM464.3 344.9L477.0 360.2L464.3 364.5ZM451.5 310.0L460.0 310.0L455.7 315.1ZM488.5 220.2L497.9 223.6L493.3 227.9ZM498.7 251.7L503.8 248.3L503.0 255.1ZM491.9 205.7L497.9 205.7L495.3 213.4ZM355.3 390.9L362.1 389.1L357.9 393.4ZM387.7 349.1L393.6 348.8L390.2 354.3ZM388.5 355.1L392.8 354.6L391.1 358.5ZM381.7 335.5L385.1 333.8L384.3 339.8ZM229.0 286.0L236.0 289.0L231.0 293.0ZM471.3 250.2L481.9 252.3L477.7 258.7ZM477.7 256.6L490.4 263.0L481.9 267.2ZM475.5 281.9L486.2 275.7L488.3 281.9ZM452.0 292.8L469.0 290.6L460.6 309.8ZM464.9 305.5L470.0 313.0L466.0 320.0ZM476.0 300.0L482.0 296.0L481.0 304.0ZM292.0 111.0L306.0 109.5L303.0 118.0ZM341.0 152.0L347.0 147.0L351.0 157.0ZM305.0 214.0L310.0 214.0L307.5 224.0ZM306.0 184.0L309.0 181.0L310.0 186.0ZM316.0 181.0L320.0 181.0L318.0 184.0Z"/>
<path fill="#ffffff" d="M317.8 328.2L316.1 328.4L316.3 327.5ZM322.8 314.2L324.9 312.7L325.4 313.9ZM394.7 254.2L395.8 255.2L395.3 255.6ZM358.5 261.9L359.0 263.5L358.0 263.5ZM295.5 273.9L295.4 276.7L294.8 276.6ZM416.2 292.1L414.6 292.5L414.6 291.5ZM308.4 310.1L306.3 312.5L305.3 310.8ZM433.8 272.8L433.5 271.7L433.8 271.7ZM303.8 318.1L305.4 317.7L305.3 318.7ZM371.7 291.8L370.1 292.0L370.3 291.2ZM402.1 236.9L403.2 237.2L403.0 237.6ZM317.3 320.6L315.2 319.5L316.1 318.6ZM402.6 283.9L405.5 282.6L405.8 284.3ZM247.7 252.0L249.1 250.9L249.4 251.6ZM311.5 313.7L313.1 311.6L313.6 312.1ZM254.1 264.4L255.2 266.4L254.6 266.6ZM429.8 288.0L427.5 289.6L427.0 288.2ZM392.0 251.8L392.8 250.3L393.5 251.0ZM373.4 248.7L376.5 247.9L376.3 250.0ZM389.7 303.6L387.9 304.1L387.9 303.3ZM394.0 265.0L392.7 263.3L393.4 262.9ZM332.7 305.4L331.9 304.2L332.6 304.0ZM345.9 321.5L346.8 320.9L347.0 321.5ZM411.5 258.6L413.1 257.1L413.3 257.5ZM301.5 281.2L303.4 282.9L302.7 283.5ZM422.0 261.7L421.2 260.2L421.9 260.0ZM270.9 255.2L270.2 254.2L270.7 254.0ZM332.1 251.3L332.2 250.1L332.7 250.2ZM398.0 245.9L396.8 247.4L396.2 246.6ZM341.4 240.2L339.1 241.8L338.8 241.0ZM436.2 260.5L434.1 260.5L434.2 259.9ZM309.4 311.3L311.0 311.8L310.7 312.3ZM449.0 276.0L448.9 278.3L447.9 278.0ZM349.3 300.3L351.3 300.9L350.9 301.6ZM373.8 275.7L371.4 277.9L371.0 277.2ZM325.3 289.5L325.2 292.1L323.8 291.7ZM426.5 255.0L429.3 255.8L428.2 257.4ZM311.6 288.1L312.2 291.0L310.6 290.9ZM309.7 293.2L310.4 294.0L310.2 294.1ZM364.4 303.5L363.6 300.5L364.3 300.4ZM436.2 284.5L437.2 287.3L436.4 287.5ZM342.4 248.6L340.4 250.8L339.9 250.1ZM325.7 318.6L326.6 321.6L325.4 321.7ZM382.0 307.7L383.7 307.2L383.8 307.6ZM307.6 298.6L308.4 300.4L307.7 300.6ZM343.6 273.3L345.1 275.9L343.9 276.3ZM338.6 288.2L338.7 286.9L339.3 287.1ZM456.6 287.4L455.3 288.1L455.1 287.3ZM287.8 259.0L287.9 260.1L287.5 260.1ZM418.4 283.4L416.8 283.5L417.0 282.7ZM415.8 232.0L417.8 232.2L417.6 232.7ZM283.3 289.4L282.3 288.4L282.7 288.1ZM295.0 293.4L294.1 293.8L294.0 293.4ZM317.6 330.0L316.5 329.2L316.9 328.8ZM324.1 318.2L322.1 317.8L322.4 317.2Z"/>
<path fill="#ffffff" d="M338.0 309.0L346.5 311.0L341.0 314.5ZM367.0 314.0L375.0 320.0L377.0 326.0L370.0 322.0ZM391.0 314.5L399.0 316.0L393.0 319.5ZM346.5 323.0L355.0 326.0L349.0 329.5ZM319.0 288.5L322.6 291.0L320.0 294.0ZM351.5 284.0L356.5 286.0L353.0 289.0ZM426.5 270.0L431.5 271.0L428.0 273.5ZM256.0 281.0L260.0 274.5L263.5 281.5ZM236.0 259.0L239.5 252.5L242.5 259.5ZM300.0 300.0L306.0 303.0L301.0 306.0ZM380.0 296.0L385.0 299.0L381.0 302.0ZM331.0 323.0L336.0 327.0L331.0 329.0Z"/>
<path fill="#ffffff" d="M411.5 211.0L416.0 220.0L417.7 229.4L410.0 222.0L405.5 212.6ZM426.0 208.0L429.5 219.0L430.0 230.4L424.0 222.0L420.6 207.6ZM437.0 229.0L445.0 238.0L441.0 239.0L431.0 231.0ZM399.0 224.0L396.0 232.0L390.0 222.0ZM441.0 211.0L447.0 217.0L444.0 224.0L436.0 212.0ZM404.0 214.0L403.0 222.0L398.0 215.0ZM449.0 243.0L452.0 252.0L446.0 246.0ZM384.0 225.0L383.0 232.0L377.0 226.0ZM364.0 228.0L362.0 236.0L357.0 229.0Z"/>
<path fill="#ffffff" d="M427.0 219.5L431.6 214.5L439.5 218.5L452.0 218.0L451.4 232.4L456.5 233.0L454.0 244.0L452.0 245.0L444.0 238.4L445.5 231.0L430.0 231.4Z"/>
<path fill="#3c77af" d="M443.0 226.5L448.9 222.0L448.4 229.4ZM433.0 220.0L438.0 224.0L433.0 227.0Z"/>
<path fill="#aecde2" d="M347.0 200.0L349.5 222.0L343.0 226.0ZM336.0 240.0L345.0 232.0L352.0 241.0L347.0 244.0ZM252.0 248.0L247.0 262.0L240.0 243.0ZM272.0 252.0L268.0 262.0L262.0 252.0ZM297.0 253.0L292.0 262.0L288.0 250.0ZM302.0 252.0L309.0 240.0L311.0 254.0Z"/>
<path fill="#bbdf93" d="M319.0 353.5L330.6 343.3L338.7 350.5L338.8 350.6L339.0 350.7L339.2 350.8L339.4 350.9L339.6 351.0L339.8 351.0L340.0 351.0L340.2 351.0L340.4 351.0L340.6 350.9L340.8 350.8L357.0 344.1L357.0 344.1L371.9 337.5L385.1 337.5L385.3 337.5L385.5 337.5L385.7 337.4L385.8 337.4L386.0 337.3L386.2 337.2L386.3 337.1L386.5 337.0L386.6 336.8L386.7 336.7L392.1 329.4L398.9 336.8L399.1 337.0L399.2 337.1L399.4 337.2L399.6 337.3L399.8 337.4L400.0 337.5L400.2 337.5L400.4 337.5L400.6 337.5L400.8 337.5L401.0 337.4L414.9 333.2L413.9 339.3L408.1 342.2L407.9 342.3L407.8 342.4L407.6 342.6L407.5 342.7L407.4 342.9L407.3 343.0L407.2 343.2L407.1 343.4L407.0 343.6L407.0 343.8L407.0 344.0L407.0 344.2L407.0 344.4L407.1 344.6L407.1 344.7L407.2 344.9L407.3 345.1L407.4 345.3L407.6 345.4L407.7 345.5L407.9 345.7L418.0 352.6L418.1 352.7L418.3 352.7L418.5 352.8L418.7 352.9L418.9 352.9L419.1 352.9L419.3 352.9L425.9 352.3L424.0 360.7L424.0 360.9L424.0 361.1L424.0 361.3L424.0 361.5L425.7 370.0L425.8 370.2L425.9 370.4L425.9 370.6L426.0 370.7L426.2 370.9L426.3 371.0L426.4 371.2L426.6 371.3L426.7 371.4L426.4 371.7L418.8 377.7L418.8 377.7L418.7 377.8L418.7 377.8L418.7 377.9L418.6 377.9L418.6 377.9L418.6 378.0L418.6 378.0L418.6 378.1L418.6 378.1L418.6 378.2L418.6 378.2L418.6 378.3L418.6 378.3L418.7 378.4L418.7 378.4L418.7 378.4L418.8 378.5L418.8 378.5L418.8 378.5L418.9 378.5L422.4 380.2L422.4 380.3L422.5 380.3L422.5 380.3L422.6 380.3L422.6 380.3L422.7 380.3L422.7 380.3L422.8 380.3L422.8 380.3L422.9 380.2L422.9 380.2L429.4 375.4L435.8 381.9L435.9 381.9L435.9 381.9L436.0 381.9L436.0 382.0L436.0 382.0L436.1 382.0L436.1 382.0L436.2 382.0L436.2 382.0L436.3 382.0L436.3 382.0L436.4 382.0L436.4 381.9L443.2 378.5L443.3 378.5L443.3 378.5L443.3 378.5L443.4 378.4L443.4 378.4L443.4 378.4L443.5 378.3L443.5 378.3L443.5 378.2L443.5 378.2L443.5 378.1L443.5 378.1L443.5 378.0L443.5 378.0L443.5 377.9L443.5 377.9L443.4 377.8L443.4 377.8L439.2 371.9L439.2 371.9L439.3 371.8L447.6 363.5L450.5 368.9L450.6 369.0L450.8 369.2L450.9 369.3L451.0 369.5L451.2 369.6L451.4 369.7L451.5 369.8L451.7 369.8L451.9 369.9L452.1 369.9L452.3 369.9L452.5 369.9L452.7 369.9L452.9 369.8L464.0 366.4L464.1 366.4L464.3 366.3L464.5 366.2L464.6 366.1L471.2 361.2L478.5 358.2L488.9 365.2L485.4 372.1L485.3 372.3L485.3 372.5L485.2 372.7L485.2 372.8L485.2 373.0L485.2 373.2L485.2 373.4L485.3 373.6L485.4 373.8L485.5 374.0L485.6 374.1L485.7 374.3L495.0 385.2L492.2 390.8L492.1 391.0L492.1 391.2L492.0 391.4L492.0 391.6L492.0 391.8L492.0 392.0L492.1 392.2L492.1 392.4L492.2 392.6L492.3 392.7L497.4 401.2L497.5 401.4L497.6 401.5L497.7 401.6L502.9 406.7L503.0 406.9L503.2 407.0L503.4 407.1L503.6 407.2L503.7 407.2L503.9 407.3L504.1 407.3L504.3 407.3L504.5 407.3L504.7 407.3L504.9 407.2L505.1 407.1L505.3 407.1L505.4 406.9L505.6 406.8L505.7 406.7L505.9 406.5L506.0 406.4L506.1 406.2L506.2 406.0L506.2 405.8L509.3 395.0L519.0 392.2L522.9 396.2L525.6 405.0L515.6 408.5L503.8 411.9L503.6 411.9L503.4 412.0L503.2 412.1L503.0 412.3L502.9 412.4L502.7 412.5L502.6 412.7L502.5 412.9L497.6 422.6L489.6 427.4L489.4 427.5L489.3 427.6L489.1 427.8L489.0 427.9L488.9 428.1L488.8 428.2L488.7 428.4L488.7 428.6L488.6 428.8L488.6 429.0L488.6 429.2L488.6 429.4L488.7 429.6L488.7 429.8L488.8 430.0L488.9 430.1L489.0 430.3L492.5 435.0L479.8 439.2L479.6 439.3L479.4 439.4L479.3 439.5L479.1 439.6L479.0 439.7L478.8 439.8L478.7 440.0L475.5 444.8L470.1 448.9L459.3 442.8L459.1 442.7L458.9 442.6L458.8 442.6L458.6 442.5L458.4 442.5L458.2 442.5L458.0 442.5L457.8 442.6L444.2 446.0L444.0 446.0L443.9 446.1L443.7 446.2L443.5 446.3L443.4 446.4L443.2 446.5L443.1 446.7L443.0 446.8L442.9 447.0L442.8 447.2L442.8 447.3L442.7 447.5L442.7 447.7L442.7 447.9L442.7 458.6L434.8 463.2L434.8 453.0L434.8 452.8L434.8 452.6L434.7 452.4L434.7 452.3L434.6 452.1L434.5 451.9L434.4 451.8L434.3 451.6L434.1 451.5L434.0 451.4L433.8 451.3L433.6 451.2L433.5 451.1L433.3 451.1L419.6 447.7L419.4 447.6L419.2 447.6L419.0 447.6L418.8 447.6L418.6 447.7L408.1 450.7L403.8 443.5L403.7 443.3L403.6 443.2L403.5 443.0L403.3 442.9L403.1 442.8L403.0 442.7L402.8 442.6L402.6 442.6L402.4 442.5L402.2 442.5L402.0 442.5L401.9 442.5L388.3 444.2L388.1 444.2L387.9 444.3L387.7 444.4L387.5 444.5L387.4 444.6L387.2 444.7L387.1 444.8L386.9 445.0L381.7 451.5L376.5 445.0L376.3 444.8L376.2 444.7L376.1 444.6L375.9 444.5L375.7 444.4L375.5 444.3L375.4 444.3L361.0 440.8L366.1 435.7L366.2 435.6L366.4 435.4L366.5 435.3L366.5 435.1L366.6 434.9L366.7 434.7L366.7 434.5L366.7 434.3L366.7 434.1L366.7 433.9L366.6 433.8L366.6 433.6L366.5 433.4L366.4 433.2L366.3 433.1L366.1 432.9L366.0 432.8L365.9 432.7L365.7 432.6L365.5 432.5L365.3 432.4L357.7 429.9L364.6 420.1L364.7 419.9L364.8 419.7L364.9 419.5L365.0 419.3L365.0 419.1L365.0 418.9L365.0 418.7L365.0 418.5L364.9 418.3L364.9 418.1L364.8 418.0L364.7 417.8L364.5 417.6L364.4 417.5L361.0 414.1L360.9 413.9L360.7 413.8L360.5 413.7L360.3 413.6L344.5 407.9L350.9 401.5L354.6 406.5L354.7 406.7L354.9 406.8L355.0 406.9L355.2 407.0L355.4 407.1L355.5 407.2L355.7 407.2L355.9 407.3L356.1 407.3L356.3 407.3L356.5 407.3L356.7 407.2L356.9 407.2L357.1 407.1L367.3 402.0L367.5 401.9L367.6 401.8L367.8 401.7L367.9 401.5L368.0 401.4L368.1 401.2L368.2 401.0L368.3 400.8L368.3 400.6L368.4 400.5L368.4 400.3L368.4 400.1L368.4 399.9L366.7 389.7L366.6 389.5L366.6 389.3L366.5 389.1L366.4 388.9L366.3 388.8L366.1 388.6L366.0 388.5L365.8 388.4L365.7 388.3L365.5 388.2L365.3 388.1L365.1 388.0L364.9 388.0L350.5 386.4L340.8 371.9L340.6 371.7L340.5 371.6L340.4 371.5L340.2 371.3L340.1 371.2L339.9 371.2L339.7 371.1L339.5 371.0L339.3 371.0L339.1 371.0L338.9 371.0L338.7 371.0L338.6 371.1L331.9 373.0L335.7 367.3L335.8 367.1L335.8 367.0L335.9 366.8L336.0 366.6L336.0 366.4L336.0 366.2L336.0 366.0L336.0 365.8L335.9 365.6L335.8 365.4L335.8 365.3L335.7 365.1L335.5 364.9L335.4 364.8L335.3 364.7L335.1 364.5L334.9 364.4L334.8 364.3L334.6 364.3L319.0 359.6ZM477.1 375.9L477.0 375.9L477.0 375.9L476.9 375.9L476.9 375.9L476.8 375.9L476.8 376.0L476.7 376.0L476.7 376.0L476.7 376.0L476.6 376.1L476.6 376.1L476.6 376.1L476.5 376.2L476.5 376.2L476.5 376.3L476.5 376.3L476.5 376.4L476.5 376.4L476.5 376.5L476.5 376.5L476.5 376.6L479.9 386.2L479.9 386.2L480.0 386.3L480.0 386.3L480.0 386.3L480.1 386.4L480.1 386.4L480.1 386.4L480.2 386.4L480.2 386.5L480.3 386.5L480.3 386.5L480.4 386.5L480.4 386.5L480.5 386.5L480.5 386.5L480.6 386.5L480.6 386.5L480.6 386.4L480.7 386.4L480.7 386.4L480.8 386.3L480.8 386.3L480.8 386.3L480.8 386.2L480.9 386.2L484.3 377.4L484.3 377.3L484.3 377.3L484.3 377.2L484.3 377.2L484.3 377.1L484.3 377.1L484.3 377.1L484.3 377.0L484.2 377.0L484.2 376.9L484.2 376.9L484.2 376.8L484.1 376.8L484.1 376.8L484.0 376.8L484.0 376.7L484.0 376.7L483.9 376.7L483.9 376.7ZM441.0 405.7L441.1 405.8L441.1 405.8L441.2 405.8L441.2 405.8L441.3 405.8L441.3 405.8L441.4 405.8L441.4 405.8L441.5 405.8L441.5 405.8L441.5 405.7L441.6 405.7L441.6 405.7L441.7 405.7L445.1 402.3L445.1 402.2L445.1 402.2L445.1 402.1L445.2 402.1L445.2 402.0L445.2 402.0L445.2 401.9L445.2 401.9L445.2 401.8L445.2 401.8L445.2 401.8L445.2 401.7L445.1 401.7L445.1 401.6L445.1 401.6L445.0 401.5L445.0 401.5L436.5 394.7L436.5 394.7L436.4 394.7L436.4 394.6L436.3 394.6L429.7 393.0L425.5 386.3L425.5 386.3L425.5 386.3L425.4 386.2L425.4 386.2L425.3 386.2L425.3 386.1L425.2 386.1L425.2 386.1L425.2 386.1L425.1 386.1L421.7 386.1L421.7 386.1L421.6 386.1L421.6 386.1L421.5 386.1L421.5 386.2L421.4 386.2L421.4 386.2L421.3 386.2L421.3 386.3L421.3 386.3L421.3 386.4L421.2 386.4L421.2 386.4L421.2 386.5L421.2 386.5L421.2 386.6L421.2 386.6L421.2 386.7L421.2 386.7L421.2 386.8L421.3 386.8L425.6 395.3L425.6 395.4L425.6 395.4L425.6 395.4L425.7 395.5L425.7 395.5L432.5 400.6L432.5 400.6ZM409.5 351.8L409.4 351.8L409.4 351.7L409.4 351.7L409.4 351.7L409.3 351.6L409.3 351.6L409.2 351.6L409.2 351.5L409.2 351.5L409.1 351.5L409.1 351.5L409.0 351.5L409.0 351.5L408.9 351.5L408.9 351.5L408.8 351.5L408.8 351.6L408.7 351.6L408.7 351.6L408.7 351.6L408.6 351.7L408.6 351.7L408.6 351.8L408.5 351.8L404.5 360.8L404.5 360.8L404.5 360.9L404.5 360.9L404.5 361.0L404.5 361.0L404.5 361.1L404.5 361.1L404.5 361.2L404.6 361.2L404.6 361.3L404.6 361.3L404.6 361.3L404.7 361.4L404.7 361.4L404.7 361.4L404.8 361.5L404.8 361.5L404.9 361.5L404.9 361.5L405.0 361.5L405.0 361.5L405.1 361.5L412.1 360.5L412.1 360.5L412.2 360.5L412.2 360.5L412.3 360.4L412.3 360.4L412.3 360.4L412.4 360.3L412.4 360.3L412.4 360.3L412.5 360.2L412.5 360.2L412.5 360.1L412.5 360.1L412.5 360.0L412.5 360.0L412.5 359.9L412.5 359.9L412.5 359.8ZM390.9 394.5L390.9 394.5L390.8 394.5L390.8 394.6L390.7 394.6L390.7 394.6L390.7 394.6L390.6 394.7L390.6 394.7L390.6 394.7L390.5 394.8L390.5 394.8L390.5 394.9L390.5 394.9L390.5 395.0L390.5 395.0L390.5 395.1L390.5 395.1L390.5 395.2L390.5 395.2L390.6 395.2L394.6 402.2L394.6 402.3L394.6 402.3L394.7 402.4L394.7 402.4L394.7 402.4L394.8 402.4L394.8 402.5L394.9 402.5L394.9 402.5L395.0 402.5L395.0 402.5L395.1 402.5L395.1 402.5L395.2 402.5L395.2 402.5L395.3 402.4L395.3 402.4L395.3 402.4L395.4 402.3L395.4 402.3L395.4 402.3L395.5 402.2L395.5 402.2L395.5 402.1L397.5 394.1L397.5 394.1L397.5 394.0L397.5 394.0L397.5 393.9L397.5 393.9L397.5 393.8L397.5 393.8L397.4 393.7L397.4 393.7L397.4 393.7L397.3 393.6L397.3 393.6L397.3 393.6L397.2 393.5L397.2 393.5L397.1 393.5L397.1 393.5L397.0 393.5L397.0 393.5L396.9 393.5ZM377.1 383.0L377.0 383.0L377.0 382.9L377.0 382.9L377.0 382.9L376.9 382.8L376.9 382.8L376.8 382.8L376.8 382.7L376.8 382.7L376.7 382.7L376.7 382.7L376.6 382.7L376.6 382.7L376.5 382.7L376.5 382.7L376.4 382.7L376.4 382.8L373.0 384.5L372.9 384.5L372.9 384.5L372.9 384.5L372.8 384.6L372.8 384.6L372.8 384.7L372.7 384.7L372.7 384.7L372.7 384.8L372.7 384.8L372.7 384.9L372.7 384.9L372.7 385.0L372.7 385.0L372.7 385.1L372.8 385.1L372.8 385.2L372.8 385.2L372.8 385.3L379.6 392.1L379.7 392.1L379.7 392.1L379.8 392.1L379.8 392.2L379.9 392.2L379.9 392.2L379.9 392.2L380.0 392.2L380.0 392.2L380.1 392.2L380.1 392.2L380.2 392.2L380.2 392.1L380.3 392.1L380.3 392.1L380.4 392.1L380.4 392.0L380.4 392.0L380.4 391.9L380.5 391.9L380.5 391.8L380.5 391.8L380.5 391.8L380.5 391.7L380.5 391.7L380.5 391.6L380.5 391.6L380.5 391.5Z"/>
<path fill="#ffffff" d="M323.1 355.0L316.0 357.7L316.0 353.0ZM323.1 355.1L320.9 363.3L317.0 362.1ZM320.2 354.7L321.9 363.6L318.9 362.7ZM331.4 356.4L328.4 365.6L325.0 364.5ZM334.0 359.2L335.0 367.5L330.5 366.2ZM343.0 364.0L332.7 366.7L333.5 364.2ZM338.9 374.8L329.1 371.8L331.5 368.1ZM336.5 366.9L336.7 374.7L333.8 375.5ZM346.4 368.6L339.3 374.4L336.9 372.8ZM345.9 369.1L341.2 377.9L338.5 374.0ZM351.7 377.9L343.1 380.7L340.8 377.4ZM353.5 375.8L345.7 384.7L343.4 381.2ZM356.4 379.1L353.6 389.8L350.3 389.4ZM352.9 382.6L356.5 390.1L352.3 389.6ZM358.4 382.3L361.4 390.6L358.3 390.3ZM369.5 380.4L365.5 391.6L362.1 389.9ZM374.1 396.0L364.8 396.9L364.2 393.2ZM373.3 395.6L365.0 398.0L364.6 395.5ZM373.3 404.8L364.5 400.1L367.8 398.3ZM363.3 409.9L361.2 401.7L364.1 400.2ZM362.9 410.1L354.7 404.9L358.2 403.2ZM353.2 411.3L355.7 403.1L358.7 406.7ZM352.5 408.5L347.1 401.0L349.9 398.3ZM353.2 408.1L344.5 403.7L346.5 401.6ZM348.5 403.9L348.2 412.4L343.8 410.8ZM350.8 402.1L352.7 414.1L348.3 412.4ZM355.3 407.6L355.8 415.2L351.9 413.8ZM365.4 408.9L360.7 417.0L356.3 415.3ZM371.5 412.7L362.9 420.2L360.4 417.7ZM367.1 425.7L359.4 422.3L362.0 418.5ZM367.0 427.1L357.5 424.9L359.2 422.5ZM365.0 427.3L356.4 432.6L354.6 430.1ZM362.0 424.7L360.2 433.9L357.2 432.9ZM372.5 435.6L363.5 435.8L363.9 431.6ZM367.8 440.2L362.4 435.1L365.2 432.4ZM363.9 432.3L361.9 444.5L357.5 442.2ZM364.6 436.8L367.1 445.3L362.7 444.3ZM369.9 436.3L370.3 446.1L367.1 445.3ZM373.2 437.9L374.2 447.1L371.0 446.3ZM385.4 443.7L375.8 448.9L374.0 446.7ZM377.6 444.6L385.9 451.1L383.0 454.6ZM377.0 444.7L388.0 448.4L385.3 451.8ZM386.2 437.5L389.7 447.0L386.9 447.5ZM391.5 436.8L394.1 446.5L389.7 447.1ZM397.4 439.1L398.2 446.0L395.0 446.4ZM397.0 436.5L403.5 445.3L399.2 445.9ZM415.0 447.8L404.7 450.8L403.2 448.2ZM403.7 445.0L410.9 453.0L407.9 453.8ZM416.0 440.9L418.0 450.9L413.4 452.3ZM419.3 441.5L420.3 450.3L415.9 451.6ZM425.1 444.7L425.3 452.2L420.7 451.0ZM427.2 443.4L429.3 453.2L425.9 452.3ZM437.2 448.8L432.8 455.3L430.4 450.9ZM441.3 452.9L431.8 457.5L431.8 454.8ZM439.9 460.5L431.8 463.1L431.8 459.1ZM435.8 457.5L440.6 463.3L437.0 465.3ZM440.3 451.6L443.5 461.6L439.6 463.9ZM437.5 453.3L445.7 453.7L445.7 457.8ZM435.9 453.2L445.7 447.3L445.7 451.3ZM436.5 443.5L446.0 447.1L445.3 450.1ZM450.4 436.6L452.6 447.0L449.0 447.9ZM447.5 437.3L454.7 446.4L450.1 447.6ZM458.2 438.2L459.4 445.3L456.2 446.0ZM466.8 441.7L464.0 448.9L459.7 446.5ZM474.5 442.1L467.8 451.1L463.8 448.8ZM466.6 444.3L474.9 449.0L471.2 451.8ZM473.9 437.1L479.6 444.1L477.8 446.8ZM474.9 437.5L481.5 441.2L479.3 444.6ZM476.5 433.5L483.4 441.2L478.8 442.7ZM486.5 431.7L490.6 438.8L487.1 439.9ZM491.9 431.9L493.1 437.9L489.7 439.1ZM484.8 436.4L492.1 429.4L494.2 432.3ZM484.7 425.4L491.8 427.9L491.4 431.5ZM489.4 421.5L496.1 426.9L493.7 428.4ZM494.4 416.4L502.2 420.0L500.1 424.2ZM493.2 414.3L502.9 418.7L500.8 422.9ZM495.6 410.5L506.0 413.7L503.3 416.1ZM506.5 403.9L508.7 413.6L505.2 414.6ZM511.9 403.7L512.4 412.5L509.3 413.4ZM515.2 403.0L518.5 410.6L515.1 411.9ZM520.8 399.8L524.6 408.5L520.6 409.9ZM525.8 396.3L528.4 406.6L524.5 409.0ZM520.5 404.2L526.4 397.2L527.3 400.3ZM515.2 398.6L522.0 390.9L524.8 393.8ZM518.3 397.8L513.8 390.6L518.5 389.3ZM515.5 400.1L511.8 391.2L516.5 389.8ZM513.5 402.6L505.6 397.2L506.7 393.3ZM514.0 397.3L505.0 399.3L505.9 396.0ZM514.4 407.4L503.5 404.5L504.6 400.7ZM499.1 411.1L503.1 402.7L506.0 405.6ZM494.0 408.0L501.5 401.1L503.9 403.5ZM488.0 399.0L497.2 395.1L499.1 398.2ZM485.3 398.3L495.2 391.8L497.4 395.4ZM486.6 387.5L495.3 390.6L494.6 394.2ZM489.0 383.9L498.1 385.4L496.7 388.9ZM483.2 382.7L492.6 377.8L495.4 381.0ZM486.7 381.0L491.4 376.4L494.5 379.9ZM482.1 379.2L487.2 371.5L490.1 374.9ZM484.2 364.4L490.7 368.3L488.4 372.8ZM482.4 362.8L491.7 366.4L490.3 369.0ZM483.8 367.6L485.9 359.6L488.0 361.0ZM481.1 367.4L480.9 356.2L484.3 358.5ZM480.9 365.8L472.8 357.3L477.2 355.5ZM478.0 366.5L468.5 359.3L471.8 357.4ZM473.3 366.5L465.5 361.7L468.5 359.4ZM466.9 371.8L460.6 364.3L463.2 363.5ZM462.8 373.0L458.2 365.0L461.3 364.1ZM456.5 372.4L451.3 367.0L454.0 366.5ZM449.6 374.7L451.5 366.1L455.1 368.6ZM444.9 370.2L449.7 361.0L452.0 365.3ZM452.1 369.2L441.3 365.5L443.3 363.6ZM444.9 376.4L438.2 368.7L440.8 366.0ZM440.4 378.0L435.6 369.2L439.2 369.5ZM431.2 376.8L431.8 368.9L435.0 369.2ZM424.9 377.7L426.4 368.1L430.6 369.5ZM419.4 369.1L427.9 365.4L428.4 367.9ZM416.3 360.9L427.5 358.9L426.5 363.2ZM417.8 351.7L428.4 354.9L427.7 358.0ZM430.0 359.9L422.5 349.6L427.3 349.1ZM421.1 357.9L419.0 349.9L423.0 349.5ZM416.0 355.5L415.6 347.3L419.6 350.0ZM410.0 356.3L414.2 346.3L416.8 348.1ZM403.8 349.6L409.3 343.0L411.6 344.6ZM405.1 338.0L412.2 343.5L408.0 345.6ZM411.7 334.9L415.5 341.8L411.1 344.0ZM406.6 337.2L417.9 333.7L417.4 336.7ZM411.4 342.3L411.0 331.3L413.5 330.5ZM407.8 342.3L403.6 333.5L406.0 332.8ZM405.3 344.1L399.1 334.5L402.6 334.4ZM390.7 337.8L399.5 333.1L402.5 336.4ZM392.0 336.3L396.6 329.9L399.3 332.8ZM396.6 337.1L387.1 331.1L389.1 328.4ZM394.8 337.6L384.8 334.2L387.3 330.8ZM387.0 345.1L383.8 334.6L387.0 334.2ZM378.5 345.7L379.4 334.5L382.4 334.5ZM375.9 341.2L373.0 334.5L375.7 334.5ZM369.1 346.2L368.9 335.6L371.6 334.4ZM365.8 348.2L362.5 338.4L366.8 336.5ZM366.4 347.6L359.6 339.7L362.8 338.3ZM360.5 348.8L354.0 342.2L358.4 340.3ZM354.8 352.1L348.4 344.5L351.5 343.2ZM346.5 354.2L344.1 346.2L347.1 345.0ZM346.9 353.1L339.5 348.1L342.3 347.0ZM335.2 354.2L339.0 346.8L341.2 348.8ZM330.7 349.2L334.1 342.4L337.7 345.6ZM329.8 348.9L332.5 341.0L335.5 343.6ZM332.1 346.7L324.6 344.6L327.5 342.0ZM328.5 354.5L320.9 347.8L324.0 345.1Z"/>
<path fill="#bbdf93" d="M317.8 350.9L323.0 359.5L315.0 360.6ZM326.3 357.2L317.4 354.2L322.0 348.9ZM326.6 353.5L324.7 346.2L331.1 347.5ZM335.4 341.9L328.6 346.2L327.4 340.7ZM333.0 345.1L326.2 346.4L327.3 341.2ZM328.1 348.2L328.7 340.6L333.5 342.8ZM330.2 343.6L338.4 344.7L334.2 350.9ZM337.1 355.2L334.6 348.3L341.3 349.1ZM344.5 345.7L346.9 354.3L340.1 353.5ZM350.0 349.9L350.8 342.3L357.0 346.9ZM361.6 341.4L356.9 351.9L350.6 344.7ZM364.5 336.0L360.2 346.1L354.6 340.8ZM362.0 339.6L371.0 333.7L371.5 344.5ZM376.2 336.9L372.4 343.0L369.0 336.3ZM372.3 335.4L381.8 333.1L379.0 342.6ZM370.3 334.9L380.8 337.2L375.9 344.0ZM377.4 334.1L388.0 334.6L384.1 342.3ZM391.9 339.5L381.2 338.7L386.7 330.1ZM388.7 327.3L391.7 335.9L382.8 334.3ZM387.0 329.5L393.5 328.8L392.3 333.4ZM400.8 335.5L389.9 333.2L394.1 326.5ZM397.5 330.9L392.4 336.0L390.3 331.0ZM403.4 337.8L390.0 335.8L395.0 327.2ZM407.3 334.1L398.4 343.9L394.1 335.3ZM407.3 332.6L405.9 339.4L401.2 335.9ZM399.7 335.4L413.3 331.1L412.1 342.4ZM413.2 338.9L406.2 335.3L412.4 331.1ZM415.6 342.1L408.2 334.3L416.0 331.4ZM407.1 336.0L418.0 340.3L409.5 347.5ZM414.7 336.1L411.3 346.3L404.8 340.3ZM407.5 346.6L409.7 339.7L413.9 343.3ZM414.9 345.6L417.7 352.7L411.4 352.4ZM406.4 346.1L418.4 350.0L411.6 357.6ZM423.0 349.8L415.2 360.9L409.4 350.3ZM427.2 352.1L421.0 354.7L421.1 349.2ZM424.9 349.2L428.8 358.5L421.4 358.7ZM418.7 364.4L424.2 355.8L428.6 361.8ZM428.2 368.7L417.8 361.9L425.9 356.5ZM421.7 363.8L427.9 366.3L424.2 370.0ZM428.1 370.5L422.1 364.9L427.2 362.3ZM440.7 366.1L449.1 360.4L450.0 370.2ZM450.6 367.7L443.7 364.1L448.3 360.3ZM447.5 360.1L450.6 367.6L442.4 366.5ZM450.7 365.6L443.9 366.3L445.7 360.9ZM456.9 371.0L447.1 371.8L449.5 364.5ZM448.2 365.3L460.9 365.4L457.8 373.6ZM464.3 362.1L462.6 371.6L456.1 367.3ZM467.4 361.5L465.2 369.3L460.6 366.0ZM466.3 368.5L460.6 364.7L464.8 361.8ZM473.1 356.2L474.2 367.6L464.4 363.6ZM470.5 362.8L473.1 356.4L477.0 360.5ZM474.7 359.7L482.8 356.9L482.0 364.1ZM483.8 357.5L477.6 366.2L473.2 357.1ZM478.2 354.9L483.6 358.9L479.0 361.6ZM493.7 364.8L482.1 369.4L482.6 359.1ZM487.5 363.1L490.1 371.5L481.3 369.4ZM490.9 380.9L481.5 376.9L487.6 371.3ZM491.2 381.3L485.1 378.1L490.2 374.4ZM498.4 385.4L494.4 392.7L490.3 387.3ZM495.2 397.0L487.4 387.5L497.9 384.9ZM492.6 388.9L498.0 401.2L484.5 399.5ZM497.5 406.3L494.7 399.9L499.7 399.7ZM505.5 405.3L495.2 407.1L497.5 398.6ZM502.8 408.5L496.8 403.8L502.8 400.8ZM507.9 402.1L500.3 409.7L497.2 400.7ZM505.6 396.2L510.3 401.6L503.5 403.1ZM514.3 399.6L505.9 401.3L507.4 394.5ZM512.7 400.4L505.9 397.7L510.2 393.5ZM505.5 393.1L514.6 392.6L511.9 399.7ZM519.4 401.4L510.6 391.3L520.3 388.0ZM507.6 391.3L519.9 389.6L517.9 398.2ZM530.2 405.3L519.9 403.8L524.9 396.3ZM528.1 408.7L520.5 406.1L524.4 401.5ZM520.9 406.6L524.6 400.5L527.8 404.8ZM523.9 402.7L521.0 410.1L516.7 406.0ZM522.6 408.9L510.8 410.9L513.7 400.9ZM508.3 406.2L513.7 411.4L508.9 413.7ZM506.8 414.3L508.3 406.6L513.3 410.0ZM505.9 416.0L500.1 409.3L508.6 407.6ZM505.0 415.4L498.7 425.6L493.2 417.3ZM491.1 417.8L501.6 415.5L498.3 425.8ZM499.1 426.4L490.7 424.2L494.9 418.8ZM491.7 437.1L483.1 427.7L495.6 425.0ZM483.3 426.6L493.4 424.9L491.5 432.7ZM494.0 431.1L487.3 435.5L486.5 428.4ZM487.4 433.4L493.1 439.1L485.5 441.2ZM486.3 433.5L488.5 440.5L482.4 439.6ZM485.3 441.0L478.9 437.6L485.4 433.8ZM480.7 438.5L478.4 445.4L474.5 442.3ZM470.5 445.6L475.5 439.2L478.5 443.9ZM470.0 442.4L477.7 446.5L469.9 451.1ZM469.2 453.3L467.5 446.5L473.5 447.7ZM460.9 447.6L467.6 443.4L468.3 450.2ZM460.9 444.2L468.3 440.8L467.3 449.3ZM461.8 439.4L464.3 448.2L455.0 445.6ZM463.9 446.3L453.1 443.5L461.6 435.4ZM457.5 440.6L454.7 447.1L451.0 443.5ZM447.9 449.0L453.6 438.2L459.8 446.4ZM447.1 451.9L439.2 450.7L442.0 445.7ZM439.7 456.1L446.7 453.8L445.5 460.7ZM439.2 455.9L443.5 460.8L439.3 462.4ZM431.6 468.2L432.8 459.2L438.5 462.3ZM437.1 466.9L430.9 459.8L440.1 458.0ZM430.5 463.2L435.8 451.6L442.5 458.9ZM436.0 466.5L430.4 454.9L441.1 454.7ZM433.8 448.6L441.1 455.4L431.2 458.2ZM435.9 456.4L427.2 452.3L435.5 446.8ZM428.3 446.4L436.1 450.2L430.1 454.9ZM424.6 442.9L428.3 451.2L420.4 450.9ZM415.9 443.6L422.3 448.8L417.2 451.7ZM415.1 450.6L422.2 443.3L425.3 451.1ZM409.5 444.0L415.7 451.1L408.9 453.5ZM405.4 449.1L412.0 448.1L411.1 452.6ZM404.9 447.6L405.8 440.5L411.0 443.8ZM401.8 448.3L404.1 441.3L409.1 447.2ZM389.5 448.2L385.3 441.2L393.0 440.9ZM384.5 440.5L389.7 448.1L380.6 448.9ZM376.0 447.2L386.3 446.2L381.8 455.8ZM379.0 450.1L385.9 452.9L381.5 457.1ZM374.6 446.7L386.2 446.6L382.5 455.2ZM372.5 447.1L378.2 439.2L382.2 447.0ZM366.7 442.9L378.7 438.3L378.5 447.8ZM376.1 445.1L368.9 446.4L370.3 440.8ZM362.5 444.7L368.4 436.6L372.5 445.4ZM362.5 444.5L363.4 435.1L370.3 439.2ZM369.0 434.3L360.7 437.1L361.6 429.6ZM357.9 433.6L367.2 430.9L366.6 438.1ZM355.5 429.1L363.1 426.9L360.9 434.8ZM361.0 431.1L354.7 427.4L359.3 424.0ZM356.7 425.5L365.5 427.4L360.5 433.7ZM361.9 418.5L368.4 430.1L357.7 431.1ZM358.6 426.7L361.9 415.0L370.5 424.1ZM361.0 416.8L365.0 424.7L357.6 425.1ZM361.8 419.1L358.9 408.8L368.3 410.5ZM361.8 419.8L352.1 413.2L363.2 408.2ZM355.1 413.7L347.2 411.7L351.8 406.3ZM355.6 410.4L345.0 412.1L348.9 402.0ZM351.5 411.1L343.9 407.6L350.7 402.8ZM347.5 409.5L340.9 410.4L342.3 405.4ZM350.2 399.7L349.9 408.1L343.7 405.0ZM353.4 398.5L354.8 405.3L349.6 404.2ZM353.6 401.2L356.8 407.6L351.3 407.9ZM350.6 407.7L358.8 404.8L358.7 411.0ZM364.2 408.3L363.6 400.7L369.0 402.3ZM366.4 396.8L374.0 402.5L366.1 406.3ZM364.4 399.6L366.2 390.0L372.8 394.6ZM364.0 387.7L371.2 395.8L363.9 398.5ZM360.6 392.0L363.5 378.2L374.1 387.7ZM356.2 389.4L360.1 383.2L363.5 388.1ZM360.1 381.7L364.7 388.5L356.6 389.1ZM362.6 385.0L353.8 391.1L352.8 380.8ZM346.8 385.4L354.8 381.2L355.2 388.9ZM345.6 375.1L357.4 380.9L346.4 388.2ZM340.9 370.2L349.3 376.2L341.8 380.5ZM343.1 381.8L339.3 375.5L345.3 374.8ZM344.9 375.6L337.7 374.4L340.9 369.5ZM339.6 368.2L339.5 375.9L334.2 373.6ZM326.4 378.6L328.5 372.1L332.8 376.5ZM329.2 366.4L337.7 364.3L335.6 372.4ZM336.2 364.2L338.1 374.6L330.9 373.3ZM331.2 371.0L330.4 359.3L340.5 364.0ZM335.1 364.0L323.3 364.1L329.0 354.0ZM321.4 355.8L323.1 362.7L317.3 361.5ZM486.8 128.3L491.6 129.5L488.5 134.6ZM481.7 138.5L486.8 135.6L491.1 141.1ZM515.4 263.6L519.1 259.4L521.7 262.8ZM613.8 333.2L623.0 336.0L614.5 347.0ZM1044.2 958.1L1051.7 961.1L1047.7 964.9ZM1059.1 971.3L1064.8 970.9L1060.8 974.4ZM949.9 994.4L955.2 994.1L951.6 997.2ZM379.1 458.1L384.3 455.5L383.4 459.8ZM383.4 462.3L392.8 465.7L386.0 470.0ZM399.6 460.6L411.5 465.7L402.1 470.9ZM391.9 469.1L400.4 471.7L394.5 475.1ZM378.3 481.9L384.3 479.9L383.4 484.0ZM403.0 487.0L410.6 488.4L404.2 490.8ZM454.0 458.9L458.3 456.7L457.4 461.5ZM483.8 458.1L489.8 455.5L488.1 461.5ZM497.4 488.7L506.0 494.7L500.0 498.6ZM473.6 498.1L478.7 495.9L477.0 500.3ZM502.6 427.4L509.4 424.9L506.8 430.9ZM506.8 432.6L516.2 430.0L511.1 438.5ZM418.7 508.0L426.0 511.0L420.5 513.0ZM508.0 508.0L514.0 510.0L509.0 512.5ZM387.0 507.0L391.0 506.0L390.0 511.0ZM518.6 389.3L513.6 389.6L514.9 386.0ZM466.7 355.6L463.4 358.9L462.2 354.6ZM455.6 363.9L459.1 357.1L463.2 363.6ZM510.1 412.1L512.1 417.0L507.1 416.4ZM337.9 399.5L345.8 399.6L341.5 406.5ZM520.1 418.9L514.0 417.1L516.9 413.3ZM430.7 454.7L429.0 464.2L421.5 458.0ZM354.3 420.9L356.2 412.4L362.6 418.2ZM433.8 361.4L433.7 366.0L430.4 364.5ZM327.9 372.4L321.4 370.8L324.0 367.0ZM402.3 448.2L407.6 455.1L399.6 456.5ZM417.6 451.1L424.4 453.3L418.8 458.1ZM363.6 452.7L359.5 449.3L363.3 447.4ZM493.2 445.4L486.8 444.7L490.9 439.4ZM386.4 458.6L380.7 460.2L382.4 454.3ZM326.9 367.4L331.0 370.1L326.9 372.3ZM519.7 383.1L523.7 385.9L519.2 387.9ZM490.8 363.4L492.3 357.0L496.6 360.3ZM438.3 469.1L434.0 470.3L434.5 466.8ZM405.0 450.4L406.1 460.6L396.6 456.3ZM351.4 418.2L359.5 414.2L358.8 423.3ZM413.1 453.9L419.0 449.2L420.5 455.3Z"/>
<path fill="#ffffff" d="M514.5 397.3L515.0 398.3L514.8 398.4ZM387.6 387.6L390.1 388.7L389.1 389.9ZM380.7 435.2L380.2 436.9L379.7 436.7ZM384.6 345.3L386.4 347.4L385.1 348.0ZM393.9 389.5L395.7 391.3L395.2 391.6ZM386.8 436.1L384.5 436.9L384.3 435.9ZM409.2 393.9L409.6 396.7L408.5 396.7ZM444.7 414.1L446.4 413.8L446.3 414.8ZM354.8 373.8L356.2 375.0L355.6 375.4ZM516.3 404.8L515.1 403.6L515.4 403.4ZM417.7 403.5L416.6 404.9L416.1 404.1ZM348.5 357.6L347.9 359.3L347.4 359.1ZM343.9 360.2L343.2 362.0L342.6 361.7ZM449.8 384.4L452.0 383.7L452.1 384.4ZM405.4 368.8L403.5 368.1L404.0 367.3ZM437.4 418.1L436.4 418.1L436.4 417.7ZM434.9 397.2L432.6 396.6L433.0 395.9ZM396.1 371.1L395.1 374.0L393.7 373.0ZM448.5 432.8L448.6 430.2L449.6 430.4ZM465.6 412.9L464.6 413.4L464.4 412.9ZM405.5 364.1L403.6 363.7L404.1 362.8ZM441.5 432.0L442.8 434.3L442.2 434.6ZM384.1 374.3L384.0 376.5L383.4 376.4ZM389.9 358.5L388.5 356.7L389.1 356.4ZM484.6 396.8L485.6 396.9L485.5 397.2ZM353.3 352.5L353.1 350.3L353.8 350.3ZM472.0 377.6L470.7 377.2L470.9 376.7ZM419.0 376.1L421.4 375.3L421.5 375.8ZM484.0 429.1L482.4 429.8L482.2 429.1ZM449.0 415.9L449.9 418.5L449.1 418.6ZM355.3 376.5L353.6 376.9L353.5 376.2ZM371.4 359.8L372.7 360.5L372.6 360.7ZM374.6 432.3L373.9 433.4L373.6 433.1ZM471.1 399.0L470.1 399.5L470.0 399.1Z"/>
<path fill="#3c77af" d="M327.7 360.0L341.3 367.7L335.3 373.6ZM464.3 344.9L477.0 360.2L464.3 364.5ZM402.1 337.2L410.6 327.0L412.3 341.5ZM387.7 349.1L393.6 348.8L390.2 354.3ZM388.5 355.1L392.8 354.6L391.1 358.5ZM381.7 335.5L385.1 333.8L384.3 339.8ZM355.3 390.9L362.1 389.1L357.9 393.4ZM340.0 352.0L350.0 346.0L352.0 356.0ZM352.0 344.0L358.0 336.0L362.0 346.0ZM366.0 340.0L372.0 332.0L376.0 342.0Z"/>
<path fill="#579f3d" d="M443.4 180.8L456.3 177.1L467.8 178.8L468.0 178.8L468.2 178.8L468.4 178.8L468.6 178.7L468.8 178.7L469.0 178.6L474.9 175.8L475.0 175.7L475.2 175.6L475.4 175.4L481.6 169.5L487.5 176.3L487.6 176.5L487.8 176.6L488.0 176.7L492.6 179.4L492.8 179.5L493.0 179.6L493.1 179.6L493.2 179.7L491.6 185.9L491.6 185.9L491.6 186.0L491.6 186.0L491.6 186.1L491.6 186.1L491.6 186.1L491.6 186.2L491.7 186.2L491.7 186.2L491.7 186.3L496.7 192.3L496.7 192.3L496.7 192.3L496.8 192.3L496.8 192.4L496.8 192.4L496.9 192.4L496.9 192.4L497.0 192.4L497.0 192.4L497.0 192.4L497.1 192.4L497.1 192.4L497.2 192.4L497.2 192.4L497.2 192.3L497.3 192.3L497.3 192.3L497.3 192.3L502.3 186.3L502.3 186.2L502.4 186.2L502.4 186.2L502.4 186.1L502.4 186.1L502.4 186.0L502.4 186.0L502.4 186.0L502.4 185.9L502.4 185.9L502.4 185.8L502.4 185.8L502.3 185.8L502.3 185.7L502.3 185.7L495.7 179.2L505.4 176.4L514.9 180.3L515.1 180.4L515.3 180.5L515.5 180.5L515.7 180.5L526.0 180.5L526.2 180.5L526.4 180.5L526.6 180.4L541.9 175.3L542.1 175.2L553.5 170.3L570.0 172.0L583.6 173.7L583.8 173.7L584.0 173.7L584.2 173.7L597.3 171.2L612.3 175.3L612.5 175.4L612.7 175.4L612.9 175.4L630.8 174.9L637.7 180.8L636.5 184.4L633.6 188.7L622.5 191.9L622.3 191.9L622.1 192.0L621.9 192.1L621.7 192.2L621.6 192.4L621.5 192.5L621.3 192.7L621.2 192.8L621.2 193.0L621.1 193.2L621.0 193.4L619.5 200.9L610.5 205.5L598.8 207.1L598.6 207.2L598.4 207.2L598.3 207.3L598.1 207.4L597.9 207.5L597.8 207.6L597.6 207.7L597.5 207.9L597.4 208.0L597.3 208.2L597.2 208.4L597.2 208.6L592.3 226.4L583.8 230.0L577.7 227.7L577.5 227.7L577.3 227.6L577.1 227.6L576.9 227.6L576.8 227.6L576.6 227.6L576.4 227.7L576.2 227.8L576.0 227.8L575.9 227.9L575.7 228.1L575.6 228.2L575.5 228.3L565.0 240.9L555.5 230.2L562.7 226.3L562.8 226.2L563.0 226.0L563.1 225.9L563.3 225.8L563.4 225.6L563.5 225.4L563.6 225.2L563.6 225.1L563.7 224.9L563.7 224.7L563.7 224.5L563.7 224.3L563.7 224.1L563.6 223.9L563.5 223.7L563.4 223.5L563.3 223.4L563.2 223.2L563.1 223.1L562.9 222.9L562.8 222.8L562.6 222.7L551.1 217.0L558.2 206.9L558.3 206.7L558.4 206.5L558.5 206.3L558.6 206.1L558.6 205.9L558.6 205.7L558.6 205.5L558.6 205.3L558.5 205.2L558.5 205.0L558.4 204.8L558.3 204.6L558.2 204.4L558.0 204.3L557.9 204.2L557.7 204.0L557.6 203.9L557.4 203.9L557.2 203.8L557.0 203.7L556.8 203.7L556.6 203.7L556.4 203.7L556.2 203.7L556.0 203.8L555.8 203.9L555.6 203.9L555.5 204.0L545.4 210.8L534.8 215.5L534.8 209.1L534.8 208.9L534.8 208.7L534.7 208.5L534.6 208.3L534.6 208.1L534.5 208.0L534.3 207.8L534.2 207.7L534.1 207.5L533.9 207.4L533.7 207.3L533.5 207.2L533.3 207.2L531.5 206.7L535.9 207.4L536.0 207.4L536.0 207.4L536.1 207.4L536.1 207.4L536.1 207.4L536.2 207.4L536.2 207.3L536.2 207.3L536.3 207.3L536.3 207.3L536.3 207.2L536.3 207.2L536.4 207.2L536.4 207.1L536.4 207.1L536.4 207.1L536.4 207.0L536.4 207.0L536.4 206.9L536.4 206.9L536.4 206.9L536.4 206.8L529.4 191.8L529.3 191.8L529.3 191.8L529.3 191.7L529.3 191.7L529.2 191.7L529.2 191.7L529.2 191.6L529.1 191.6L529.1 191.6L529.1 191.6L529.0 191.6L529.0 191.6L528.9 191.6L528.9 191.6L528.9 191.6L528.8 191.6L528.8 191.7L528.8 191.7L528.7 191.7L528.7 191.7L528.7 191.8L528.7 191.8L528.6 191.8L528.6 191.9L528.6 191.9L528.6 191.9L528.6 192.0L528.6 192.0L529.6 206.0L529.6 206.1L529.6 206.1L529.6 206.1L509.4 200.4L509.3 200.3L509.2 200.3L509.2 200.3L509.3 200.3L509.3 200.3L509.3 200.2L509.3 200.2L509.4 200.2L509.4 200.1L509.4 200.1L509.4 200.1L509.4 200.0L509.4 200.0L509.4 199.9L508.4 192.9L508.4 192.9L508.4 192.9L508.4 192.8L508.3 192.8L508.3 192.8L508.3 192.7L508.3 192.7L508.2 192.7L508.2 192.7L508.2 192.6L508.1 192.6L508.1 192.6L508.1 192.6L508.0 192.6L508.0 192.6L507.9 192.6L507.9 192.6L507.9 192.6L507.8 192.6L496.8 197.6L496.8 197.7L496.8 197.7L496.7 197.7L496.7 197.7L496.7 197.8L496.7 197.8L496.6 197.8L496.6 197.9L496.6 197.9L496.6 197.9L496.6 198.0L496.6 198.0L496.6 198.1L496.6 198.1L496.6 198.1L496.6 198.2L496.7 198.2L496.7 198.2L496.7 198.3L496.7 198.3L496.8 198.3L496.8 198.3L496.8 198.4L496.9 198.4L496.9 198.4L496.9 198.4L508.6 200.3L508.5 200.3L508.3 200.4L508.1 200.5L507.9 200.6L507.7 200.7L507.6 200.8L507.5 200.9L507.3 201.1L507.2 201.2L507.1 201.4L504.1 207.4L493.0 210.7L492.8 210.7L492.7 210.8L492.5 210.9L492.3 211.1L492.2 211.2L492.0 211.4L491.9 211.5L491.8 211.7L490.7 213.9L483.1 213.2L480.1 206.6L480.0 206.4L479.9 206.2L479.8 206.1L479.7 205.9L479.5 205.8L479.3 205.7L479.2 205.6L479.0 205.5L470.8 202.5L470.0 195.8L470.0 195.6L469.9 195.4L469.8 195.2L469.7 195.0L469.6 194.9L469.5 194.7L469.4 194.6L469.2 194.4L469.1 194.3L468.9 194.2L468.8 194.1L468.6 194.1L468.4 194.0L468.2 194.0L468.0 194.0L464.4 194.0L466.4 190.2L466.4 190.1L466.4 190.1L466.4 190.1L466.4 190.0L466.4 190.0L466.4 190.0L466.4 189.9L466.4 189.9L466.4 189.8L466.3 189.8L466.3 189.8L466.3 189.7L466.3 189.7L466.3 189.7L466.2 189.7L466.2 189.6L466.2 189.6L466.1 189.6L466.1 189.6L466.0 189.6L466.0 189.6L466.0 189.6L465.9 189.6L455.9 191.6L455.9 191.6L455.8 191.6L455.8 191.6L455.8 191.7L455.7 191.7L455.7 191.7L455.7 191.7L455.7 191.8L455.6 191.8L455.6 191.8L455.6 191.9L455.6 191.9L455.6 192.0L455.6 192.0L455.6 192.0L455.6 192.1L455.6 192.1L455.6 192.2L455.6 192.2L455.7 192.2L455.7 192.3L455.7 192.3L457.4 194.0L452.7 194.0L446.0 188.8ZM587.6 203.1L587.6 203.1L587.6 203.2L587.7 203.2L587.7 203.2L587.7 203.3L587.7 203.3L587.8 203.3L587.8 203.4L587.8 203.4L587.9 203.4L587.9 203.4L588.0 203.4L588.0 203.4L588.0 203.4L588.1 203.4L588.1 203.4L588.2 203.4L588.2 203.4L588.2 203.3L594.2 199.3L594.3 199.3L594.3 199.3L594.3 199.3L594.3 199.2L594.4 199.2L594.4 199.1L594.4 199.1L594.4 199.1L594.4 199.0L594.4 199.0L594.4 199.0L594.4 198.9L594.4 198.9L594.4 198.8L594.3 198.8L594.3 198.8L594.3 198.7L594.3 198.7L594.2 198.7L594.2 198.7L594.2 198.6L594.1 198.6L586.1 195.6L586.1 195.6L586.1 195.6L586.0 195.6L586.0 195.6L585.9 195.6L585.9 195.6L585.9 195.6L585.8 195.6L585.8 195.7L585.8 195.7L585.7 195.7L585.7 195.7L585.7 195.8L585.7 195.8L585.6 195.8L585.6 195.9L585.6 195.9L585.6 196.0L585.6 196.0L585.6 196.0L585.6 196.1L585.6 196.1ZM581.5 213.2L583.6 214.6L583.6 214.7L583.6 214.7L583.7 214.7L583.7 214.7L583.8 214.7L583.8 214.7L583.8 214.7L583.9 214.7L583.9 214.7L583.9 214.7L584.0 214.7L584.0 214.6L584.0 214.6L584.1 214.6L584.1 214.6L584.1 214.5L584.1 214.5L584.2 214.5L584.2 214.4L584.2 214.4L584.2 214.3L584.2 214.3L584.2 214.3L584.2 214.2L584.2 214.2L584.2 214.2L584.2 214.1L584.1 214.1L584.1 214.1L584.1 214.0L584.1 214.0L582.0 212.2L582.3 211.7L582.4 211.7L582.4 211.6L582.4 211.6L582.4 211.6L582.4 211.5L582.4 211.5L582.4 211.4L582.4 211.4L582.4 211.4L582.4 211.3L582.3 211.3L582.3 211.3L582.3 211.2L582.3 211.2L582.2 211.2L582.2 211.2L582.2 211.1L582.1 211.1L582.1 211.1L582.1 211.1L582.0 211.1L582.0 211.1L582.0 211.1L581.9 211.1L581.9 211.1L581.8 211.1L581.8 211.2L581.2 211.5L577.3 208.0L577.2 208.0L577.2 208.0L577.2 207.9L577.1 207.9L577.1 207.9L573.7 207.0L573.7 207.0L573.6 207.0L573.6 207.0L573.5 207.0L573.5 207.0L573.5 207.0L573.4 207.0L573.4 207.1L573.4 207.1L573.3 207.1L573.3 207.1L573.3 207.2L573.3 207.2L573.2 207.2L573.2 207.3L573.2 207.3L573.2 207.3L573.2 207.4L573.2 207.4L573.2 207.4L573.2 207.5L573.2 207.5L573.2 207.6L573.2 207.6L573.3 207.6L573.3 207.7L573.3 207.7L573.3 207.7L573.4 207.7L580.0 212.2L573.8 215.7L573.8 215.7L573.7 215.7L573.7 215.7L573.7 215.8L573.7 215.8L573.6 215.8L573.6 215.9L573.6 215.9L573.6 215.9L573.6 216.0L573.6 216.0L573.6 216.0L573.6 216.1L573.6 216.1L573.6 216.2L573.6 216.2L573.7 216.2L573.7 216.3L573.7 216.3L573.7 216.3L573.8 216.3L573.8 216.4L573.8 216.4L573.9 216.4L573.9 216.4L574.0 216.4L579.0 216.9L579.0 216.9L579.0 216.9L579.1 216.9L579.1 216.9L579.1 216.9L579.2 216.9L579.2 216.8L579.2 216.8L579.3 216.8L579.3 216.8L579.3 216.7L579.3 216.7ZM578.5 184.8L578.5 184.8L578.5 184.9L578.6 184.9L578.6 184.9L578.7 184.9L578.7 184.9L578.7 184.9L578.8 184.9L578.8 184.9L578.8 184.9L578.9 184.9L578.9 184.8L578.9 184.8L579.0 184.8L579.0 184.8L579.0 184.7L579.1 184.7L579.1 184.7L579.1 184.6L579.1 184.6L579.1 184.5L579.1 184.5L579.1 184.5L579.1 184.4L579.1 184.4L579.1 184.3L579.1 184.3L579.0 184.3L579.0 184.2L579.0 184.2L573.9 179.1L573.9 179.1L573.8 179.1L573.8 179.0L573.7 179.0L573.7 179.0L570.3 178.1L570.3 178.1L570.2 178.1L570.2 178.1L570.1 178.1L570.1 178.1L570.1 178.1L570.0 178.1L570.0 178.2L570.0 178.2L569.9 178.2L569.9 178.2L569.9 178.3L569.9 178.3L569.8 178.3L569.8 178.4L569.8 178.4L569.8 178.4L569.8 178.5L569.8 178.5L569.8 178.6L569.8 178.6L569.8 178.6L569.8 178.7L569.9 178.7L569.9 178.7L569.9 178.8L569.9 178.8L570.0 178.8ZM565.9 187.4L565.9 187.4L566.0 187.4L566.0 187.4L566.1 187.4L566.1 187.4L566.1 187.4L566.2 187.4L566.2 187.3L566.3 187.3L566.3 187.3L572.3 181.3L572.3 181.3L572.3 181.2L572.4 181.2L572.4 181.2L572.4 181.1L572.4 181.1L572.4 181.0L572.4 181.0L572.4 181.0L572.4 180.9L572.4 180.9L572.4 180.9L572.4 180.8L572.3 180.8L572.3 180.8L572.3 180.7L572.3 180.7L572.2 180.7L572.2 180.7L572.2 180.6L572.1 180.6L572.1 180.6L572.0 180.6L572.0 180.6L572.0 180.6L571.9 180.6L571.9 180.6L571.9 180.6L571.8 180.6L561.8 185.6L561.8 185.7L561.8 185.7L561.7 185.7L561.7 185.7L561.7 185.8L561.7 185.8L561.6 185.8L561.6 185.9L561.6 185.9L561.6 185.9L561.6 186.0L561.6 186.0L561.6 186.1L561.6 186.1L561.6 186.1L561.6 186.2L561.7 186.2L561.7 186.2L561.7 186.3L561.7 186.3L561.8 186.3L561.8 186.3L561.8 186.4L561.9 186.4L561.9 186.4ZM552.8 194.3L552.8 194.3L552.8 194.4L552.8 194.4L552.8 194.5L552.8 194.5L552.9 194.5L552.9 194.6L552.9 194.6L552.9 194.6L553.0 194.6L553.0 194.7L553.0 194.7L553.1 194.7L553.1 194.7L553.2 194.7L553.2 194.7L553.2 194.7L553.3 194.7L553.3 194.7L553.3 194.7L553.4 194.7L560.2 191.2L560.2 191.1L560.2 191.1L560.3 191.1L560.3 191.1L560.3 191.0L560.4 191.0L560.4 191.0L560.4 190.9L560.4 190.9L560.4 190.8L560.4 190.8L560.4 190.8L560.4 190.7L560.4 190.7L560.4 190.6L560.4 190.6L560.3 190.6L560.3 190.5L560.3 190.5L560.3 190.5L560.2 190.5L560.2 190.4L560.2 190.4L560.1 190.4L560.1 190.4L560.0 190.4L560.0 190.4L560.0 190.4L559.9 190.4L559.9 190.4L553.1 192.5L553.0 192.5L553.0 192.5L553.0 192.6L552.9 192.6L552.9 192.6L552.9 192.6L552.9 192.7L552.8 192.7L552.8 192.7L552.8 192.8L552.8 192.8L552.8 192.9L552.8 192.9ZM541.3 188.3L541.3 188.3L541.2 188.3L541.2 188.3L541.1 188.3L541.1 188.3L541.1 188.4L541.0 188.4L541.0 188.4L541.0 188.5L541.0 188.5L540.9 188.5L540.9 188.6L540.9 188.6L540.9 188.6L540.9 188.7L540.9 188.7L540.9 188.8L540.9 188.8L540.9 188.8L540.9 188.9L541.0 188.9L541.0 188.9L541.0 189.0L541.0 189.0L541.1 189.0L547.9 194.1L547.9 194.1L547.9 194.2L548.0 194.2L548.0 194.2L548.0 194.2L548.1 194.2L548.1 194.2L548.2 194.2L548.2 194.2L548.2 194.2L548.3 194.2L548.3 194.1L548.3 194.1L548.4 194.1L548.4 194.1L548.4 194.0L548.4 194.0L548.5 194.0L548.5 193.9L548.5 193.9L548.5 193.9L548.5 193.8L548.5 193.8L548.5 193.7L548.5 193.7L548.5 193.7L546.8 188.6L546.8 188.5L546.7 188.5L546.7 188.5L546.7 188.4L546.7 188.4L546.6 188.4L546.6 188.4L546.6 188.3L546.5 188.3L546.5 188.3L546.5 188.3L546.4 188.3L546.4 188.3ZM541.6 186.1L541.6 186.2L541.7 186.2L541.7 186.2L541.7 186.3L541.7 186.3L541.8 186.3L541.8 186.3L541.8 186.4L541.9 186.4L541.9 186.4L541.9 186.4L542.0 186.4L542.0 186.4L542.1 186.4L542.1 186.4L542.1 186.4L548.1 184.4L548.2 184.4L548.2 184.3L548.2 184.3L548.3 184.3L548.3 184.3L548.3 184.2L548.3 184.2L548.4 184.2L548.4 184.1L548.4 184.1L548.4 184.1L548.4 184.0L548.4 184.0L548.4 183.9L548.4 183.9L548.4 183.9L548.4 183.8L548.3 183.8L548.3 183.8L548.3 183.7L548.3 183.7L548.2 183.7L548.2 183.7L548.2 183.6L540.2 179.6L540.1 179.6L540.1 179.6L540.1 179.6L540.0 179.6L540.0 179.6L539.9 179.6L539.9 179.6L539.9 179.6L539.8 179.6L539.8 179.7L539.8 179.7L539.7 179.7L539.7 179.7L539.7 179.8L539.7 179.8L539.6 179.8L539.6 179.9L539.6 179.9L539.6 179.9L539.6 180.0L539.6 180.0L539.6 180.1L539.6 180.1L539.6 180.1ZM469.9 180.6L469.8 180.6L469.8 180.7L469.8 180.7L469.7 180.7L469.7 180.7L469.7 180.8L469.7 180.8L469.6 180.8L469.6 180.9L469.6 180.9L469.6 180.9L469.6 181.0L469.6 181.0L469.6 181.1L469.6 181.1L469.6 181.1L469.6 181.2L469.7 181.2L469.7 181.2L469.7 181.3L469.7 181.3L469.8 181.3L476.8 186.3L476.8 186.3L476.8 186.4L476.9 186.4L476.9 186.4L476.9 186.4L477.0 186.4L477.0 186.4L477.1 186.4L477.1 186.4L477.1 186.4L477.2 186.4L477.2 186.3L477.2 186.3L477.3 186.3L477.3 186.3L477.3 186.2L477.3 186.2L477.4 186.2L477.4 186.1L477.4 186.1L477.4 186.0L478.4 178.0L478.4 178.0L478.4 178.0L478.4 177.9L478.4 177.9L478.4 177.9L478.4 177.8L478.3 177.8L478.3 177.8L478.3 177.7L478.3 177.7L478.2 177.7L478.2 177.7L478.2 177.6L478.1 177.6L478.1 177.6L478.1 177.6L478.0 177.6L478.0 177.6L477.9 177.6L477.9 177.6L477.9 177.6Z"/>
<path fill="#ffffff" d="M450.1 185.1L442.0 178.1L446.9 176.7ZM446.9 180.7L442.1 186.3L441.2 183.5ZM456.2 186.8L448.9 194.8L444.9 191.7ZM451.5 187.5L450.1 195.8L447.3 193.6ZM451.0 189.4L457.0 197.0L451.8 197.0ZM460.0 187.7L463.5 197.0L458.4 197.0ZM462.2 189.1L468.7 197.0L463.1 197.0ZM473.9 194.1L467.2 197.0L466.5 194.6ZM474.9 199.1L468.0 203.7L467.5 200.0ZM482.4 199.9L475.9 207.6L472.5 206.3ZM483.8 201.3L478.9 209.3L475.5 206.5ZM484.1 206.1L479.4 212.3L477.9 208.9ZM481.0 205.8L486.6 216.5L483.7 216.3ZM485.6 208.2L493.8 214.6L491.8 217.0ZM490.3 207.5L496.4 212.8L491.5 214.3ZM490.2 204.4L497.7 212.4L493.8 213.6ZM494.2 202.7L502.8 210.9L498.3 212.3ZM498.9 203.9L508.9 204.5L506.3 209.8ZM508.9 191.1L511.1 202.3L506.9 204.7ZM517.1 196.7L513.5 204.7L510.7 203.8ZM516.2 194.8L517.6 205.8L514.3 204.9ZM523.3 199.5L522.7 207.3L517.5 205.8ZM530.9 199.3L528.0 208.8L524.3 207.7ZM534.0 201.2L531.7 209.8L526.7 208.4ZM542.9 206.0L531.8 212.6L531.8 207.2ZM542.6 218.4L531.8 215.5L531.8 210.7ZM532.7 210.4L540.8 216.1L535.9 218.3ZM538.5 204.9L544.6 214.5L542.0 215.6ZM542.7 206.8L550.4 211.1L546.6 213.7ZM552.0 196.6L555.1 207.9L552.2 209.9ZM551.9 199.3L557.0 206.6L554.8 208.1ZM566.1 211.0L554.7 206.7L556.4 204.3ZM562.2 210.9L551.3 211.4L554.0 207.7ZM560.3 219.9L548.4 215.5L550.6 212.5ZM558.9 216.7L555.6 222.6L550.6 220.1ZM560.2 215.4L559.8 224.7L554.9 222.2ZM560.8 213.4L561.3 225.4L558.8 224.2ZM568.6 233.4L559.3 225.5L563.2 221.4ZM566.3 233.3L554.4 227.3L558.3 225.2ZM559.8 227.3L555.8 235.0L553.7 232.7ZM565.2 232.3L560.6 240.5L556.7 236.0ZM569.5 232.2L563.5 243.7L560.1 239.9ZM562.1 236.3L570.1 239.5L566.7 243.7ZM562.4 233.6L572.4 236.7L570.3 239.3ZM567.5 225.4L575.3 233.2L572.9 236.1ZM574.7 223.3L579.2 229.1L575.4 232.4ZM583.8 220.2L583.1 232.9L579.6 231.6ZM583.6 225.0L587.1 231.8L584.6 232.8ZM588.5 218.9L594.0 229.0L589.6 230.8ZM584.2 222.8L596.0 224.3L595.2 227.5ZM586.3 214.7L597.8 217.8L597.0 220.5ZM588.8 210.1L599.3 212.4L598.0 217.1ZM596.8 177.1L592.8 169.0L596.0 168.4ZM596.6 175.9L589.0 169.7L594.5 168.6ZM585.6 178.4L583.8 170.7L587.3 170.0ZM583.3 180.4L579.9 170.2L583.7 170.7ZM573.4 176.8L571.8 169.2L576.9 169.8ZM572.3 178.9L569.7 168.9L573.3 169.4ZM560.5 179.4L562.0 168.2L567.7 168.7ZM561.2 176.8L559.1 167.9L564.3 168.4ZM552.0 178.5L553.2 167.3L558.3 167.8ZM555.1 177.3L547.6 169.6L551.7 167.8ZM553.5 178.4L543.0 171.6L546.6 170.0ZM540.4 182.2L538.1 173.4L542.4 172.0ZM539.0 180.7L534.3 174.7L539.2 173.1ZM538.7 185.1L528.6 176.6L533.7 174.9ZM528.2 184.4L525.8 177.5L529.3 176.4ZM525.2 187.8L520.4 177.5L524.0 177.5ZM520.7 186.1L515.2 177.5L521.0 177.5ZM506.8 186.2L512.8 176.2L515.2 177.2ZM509.1 186.5L507.1 173.9L510.8 175.4ZM505.2 181.0L499.2 175.1L503.9 173.7ZM497.4 185.7L498.0 175.4L500.8 174.6ZM488.6 187.5L493.1 176.3L495.7 177.5ZM479.9 180.1L488.8 173.6L491.5 175.4ZM479.7 176.2L487.3 171.5L490.5 175.2ZM477.8 175.7L483.3 166.9L486.8 170.9ZM482.0 175.5L474.5 172.2L477.7 169.1ZM478.8 179.4L473.2 173.4L475.1 171.6ZM475.3 181.8L465.9 176.6L470.8 174.5ZM463.8 188.1L462.9 175.0L468.8 175.9ZM458.6 187.2L460.2 174.7L465.8 175.5ZM460.4 183.8L456.9 174.2L460.4 174.7ZM453.3 187.8L448.8 176.2L454.0 174.7Z"/>
<path fill="#579f3d" d="M455.1 174.7L449.7 184.7L444.1 177.4ZM454.4 173.5L451.5 182.8L445.5 177.5ZM451.6 173.9L463.0 174.2L456.4 184.3ZM471.9 175.9L463.6 184.8L459.8 176.2ZM471.0 176.8L460.5 181.5L460.0 173.3ZM501.9 185.6L492.3 175.6L504.5 172.0ZM506.5 175.5L516.8 179.3L511.1 185.4ZM510.6 176.8L527.2 176.8L523.3 187.7ZM524.2 181.1L536.5 173.2L538.0 186.0ZM536.5 172.8L542.6 180.1L533.2 181.8ZM551.7 171.0L545.3 179.8L540.8 171.4ZM554.9 170.5L566.8 167.6L564.6 177.8ZM579.3 168.7L570.6 177.0L567.3 168.8ZM577.2 173.5L587.6 171.3L586.1 179.3ZM589.8 177.6L586.7 168.9L594.5 169.7ZM596.1 167.3L592.1 180.7L583.4 173.2ZM593.7 168.7L604.1 170.0L600.8 176.5ZM597.6 172.2L606.2 171.9L604.2 177.8ZM601.2 170.3L611.0 172.1L603.9 179.9ZM611.6 177.9L618.5 171.5L621.0 177.4ZM621.7 171.8L622.6 180.6L615.8 178.4ZM629.1 171.9L618.9 183.8L613.5 172.5ZM617.4 172.0L630.5 172.4L626.3 181.6ZM620.7 172.0L635.1 173.5L628.3 184.4ZM641.0 182.4L631.8 181.1L636.4 174.4ZM623.2 194.3L627.6 182.5L635.3 190.6ZM618.5 188.1L628.4 191.1L621.1 198.1ZM604.5 209.4L595.6 214.3L595.5 204.6ZM591.5 209.8L599.8 212.3L595.7 217.4ZM594.2 223.2L590.3 231.3L585.9 226.6ZM584.3 233.2L577.9 226.4L586.8 224.2ZM572.3 230.8L578.5 220.0L584.2 227.2ZM569.5 236.7L568.4 227.4L576.1 230.0ZM574.9 233.9L565.5 244.7L560.6 234.3ZM556.8 237.0L551.3 230.1L557.2 228.2ZM565.2 227.9L556.5 225.9L561.0 220.0ZM559.2 230.4L554.5 213.7L571.1 217.7ZM554.1 217.7L569.7 217.0L564.1 229.7ZM552.0 216.6L560.6 218.1L556.7 224.0ZM547.1 219.4L549.3 204.8L560.9 214.0ZM554.7 213.3L548.1 205.4L556.1 203.1ZM547.8 205.8L561.2 193.7L565.1 211.2ZM554.7 200.3L552.7 213.7L542.5 206.2ZM549.6 215.6L540.0 208.1L550.9 203.5ZM550.8 205.2L553.7 214.2L544.1 211.8ZM537.9 215.3L541.8 206.2L546.8 211.0ZM544.0 208.2L536.7 218.6L531.5 210.6ZM519.3 206.4L519.8 196.6L527.8 201.4ZM516.5 205.9L512.6 197.9L519.8 197.6ZM496.3 204.4L505.7 206.1L499.4 213.4ZM489.3 217.2L494.3 200.6L504.6 209.1ZM501.6 208.8L492.4 216.6L490.1 205.0ZM476.7 199.5L484.0 205.4L478.2 208.8ZM466.9 204.4L469.6 193.2L477.7 200.4ZM474.0 194.9L464.8 196.9L467.5 188.1ZM464.2 197.6L465.9 188.6L471.3 191.8ZM456.7 188.2L456.1 197.6L449.3 194.0ZM407.7 139.7L428.6 155.0L410.2 164.9ZM426.4 156.7L445.1 173.4L420.4 175.1ZM392.3 163.9L416.7 175.8L392.8 183.8ZM384.0 175.0L393.0 174.0L393.0 178.0ZM416.7 183.3L425.6 186.7L417.2 189.7ZM381.9 210.6L388.9 213.6L382.9 216.5ZM425.0 162.0L412.0 158.0L422.0 150.0ZM455.4 196.7L465.3 198.7L458.4 213.6ZM444.3 202.3L449.4 200.6L448.5 207.4ZM437.5 217.5L449.4 207.6L452.4 215.5ZM444.0 203.6L448.4 200.6L449.4 206.6ZM507.2 257.7L514.4 246.9L519.1 254.3ZM551.0 229.6L579.0 220.0L565.0 243.8ZM556.0 222.0L574.0 218.0L566.0 236.0ZM1031.0 867.3L1036.7 864.9L1036.7 868.7Z"/>
<path fill="#ffffff" d="M566.6 184.0L566.8 187.5L565.6 187.3ZM528.2 189.1L527.0 192.1L525.5 191.0ZM569.3 213.8L568.2 217.2L567.1 216.6ZM459.3 185.5L457.6 183.8L458.7 183.2ZM565.3 230.5L564.8 227.6L566.0 227.7ZM472.8 186.4L470.8 189.1L469.9 188.2ZM559.7 200.1L560.5 201.9L559.5 202.1ZM534.7 198.7L533.4 201.0L532.4 199.9ZM541.1 208.4L538.6 210.5L537.9 209.3ZM531.8 200.5L531.5 202.5L530.6 202.1ZM583.7 209.2L584.0 210.6L583.0 210.5ZM567.3 178.9L570.1 177.1L570.6 178.6ZM576.2 213.8L574.9 216.8L573.7 215.9ZM579.7 188.6L579.0 187.2L579.3 187.1ZM565.8 181.3L567.2 180.2L567.4 180.6ZM538.9 184.8L541.6 186.5L540.9 187.4Z"/>
<path fill="#3c77af" d="M491.9 205.7L497.9 205.7L495.3 213.4Z"/>
<path fill="#aecde2" d="M427.0 180.0L432.3 168.0L441.0 182.8Z"/>
</g>
<rect x="128.5" y="62.5" width="976" height="976" fill="none" stroke="#000" stroke-width="3"/>
<g stroke="#333" stroke-width="2.9" fill="none">
<path d="M179.2 1040V1047M360.9 1040V1047M542.5 1040V1047M724.2 1040V1047M905.8 1040V1047M1087.5 1040V1047"/>
<path d="M120 377.9H127M120 735.7H127"/>
</g>
</svg>
<div id="txt">
<div class="t" id="title">Cell velocity</div>
<div class="t xt" style="left:178.5px">-10.0</div>
<div class="t xt" style="left:360.2px">-7.5</div>
<div class="t xt" style="left:542.3px">-5.0</div>
<div class="t xt" style="left:724.0px">-2.5</div>
<div class="t xt" style="left:905.8px">0.0</div>
<div class="t xt" style="left:1087.5px">2.5</div>
<div class="t yt" style="top:377.9px">0</div>
<div class="t yt" style="top:735.7px">-10</div>
<div class="t" id="xl">umap_1</div>
<div class="t" id="yl">umap_2</div>
<div class="t" id="lt">mycelltype</div>
<div class="key" style="top:523.5px;background:#aecde2"></div>
<div class="key" style="top:552.4px;background:#3c77af"></div>
<div class="key" style="top:581.3px;background:#bbdf93"></div>
<div class="key" style="top:610.2px;background:#579f3d"></div>
<div class="t ll" style="top:531.2px">CD4+ Naive T</div>
<div class="t ll" style="top:560.1px">CD4+ Memory T</div>
<div class="t ll" style="top:589.0px">CD8+ T</div>
<div class="t ll" style="top:617.9px">T activated</div>
</div>
</body>
</html>
